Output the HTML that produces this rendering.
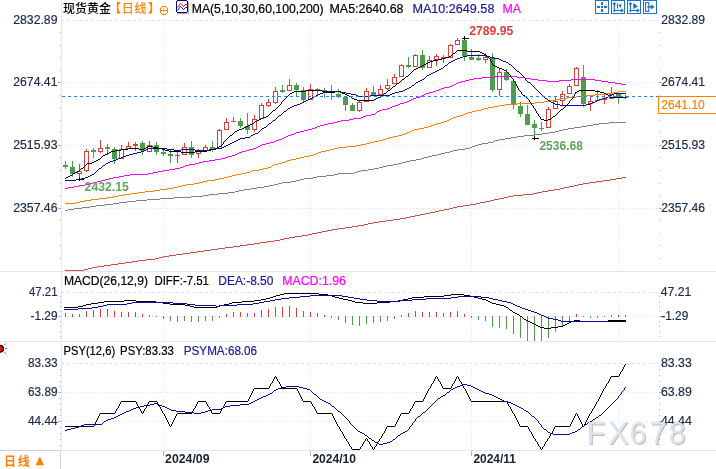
<!DOCTYPE html>
<html><head><meta charset="utf-8"><title>chart</title>
<style>html,body{margin:0;padding:0;background:#fff;width:716px;height:469px;overflow:hidden}svg{display:block}</style>
</head><body>
<svg xmlns="http://www.w3.org/2000/svg" width="716" height="469" viewBox="0 0 716 469">
<rect x="0" y="0" width="716" height="469" fill="#ffffff"/><g shape-rendering="crispEdges"><line x1="61" y1="20.5" x2="658" y2="20.5" stroke="#dfe5ec" stroke-width="1" stroke-dasharray="3 3"/><line x1="62" y1="82.5" x2="658" y2="82.5" stroke="#dde2e8" stroke-width="1" stroke-dasharray="1 2"/><line x1="62" y1="145.5" x2="658" y2="145.5" stroke="#dde2e8" stroke-width="1" stroke-dasharray="1 2"/><line x1="62" y1="208.5" x2="658" y2="208.5" stroke="#dde2e8" stroke-width="1" stroke-dasharray="1 2"/><line x1="61" y1="292.5" x2="658" y2="292.5" stroke="#dfe5ec" stroke-width="1" stroke-dasharray="3 3"/><line x1="62" y1="316.5" x2="658" y2="316.5" stroke="#dde2e8" stroke-width="1" stroke-dasharray="1 2"/><line x1="61" y1="363.5" x2="658" y2="363.5" stroke="#dfe5ec" stroke-width="1" stroke-dasharray="3 3"/><line x1="62" y1="392.5" x2="658" y2="392.5" stroke="#dde2e8" stroke-width="1" stroke-dasharray="1 2"/><line x1="62" y1="421.5" x2="658" y2="421.5" stroke="#dde2e8" stroke-width="1" stroke-dasharray="1 2"/><line x1="163.5" y1="23" x2="163.5" y2="271" stroke="#e2e6eb" stroke-width="1" stroke-dasharray="1 2"/><line x1="163.5" y1="295" x2="163.5" y2="341" stroke="#e2e6eb" stroke-width="1" stroke-dasharray="1 2"/><line x1="163.5" y1="366" x2="163.5" y2="450" stroke="#e2e6eb" stroke-width="1" stroke-dasharray="1 2"/><line x1="310.5" y1="23" x2="310.5" y2="271" stroke="#e2e6eb" stroke-width="1" stroke-dasharray="1 2"/><line x1="310.5" y1="295" x2="310.5" y2="341" stroke="#e2e6eb" stroke-width="1" stroke-dasharray="1 2"/><line x1="310.5" y1="366" x2="310.5" y2="450" stroke="#e2e6eb" stroke-width="1" stroke-dasharray="1 2"/><line x1="471.5" y1="23" x2="471.5" y2="271" stroke="#e2e6eb" stroke-width="1" stroke-dasharray="1 2"/><line x1="471.5" y1="295" x2="471.5" y2="341" stroke="#e2e6eb" stroke-width="1" stroke-dasharray="1 2"/><line x1="471.5" y1="366" x2="471.5" y2="450" stroke="#e2e6eb" stroke-width="1" stroke-dasharray="1 2"/><line x1="618.5" y1="23" x2="618.5" y2="271" stroke="#e2e6eb" stroke-width="1" stroke-dasharray="1 2"/><line x1="618.5" y1="295" x2="618.5" y2="341" stroke="#e2e6eb" stroke-width="1" stroke-dasharray="1 2"/><line x1="618.5" y1="366" x2="618.5" y2="450" stroke="#e2e6eb" stroke-width="1" stroke-dasharray="1 2"/></g><g shape-rendering="crispEdges"><line x1="0" y1="271.5" x2="716" y2="271.5" stroke="#dfe5ee" stroke-width="1"/><line x1="0" y1="341.5" x2="716" y2="341.5" stroke="#dfe5ee" stroke-width="1"/><line x1="61" y1="450.5" x2="716" y2="450.5" stroke="#dfe5ee" stroke-width="1"/><line x1="0" y1="450.5" x2="61" y2="450.5" stroke="#c9ced6" stroke-width="1"/><line x1="60.5" y1="450" x2="60.5" y2="469" stroke="#c9ced6" stroke-width="1"/><line x1="61.5" y1="0" x2="61.5" y2="450" stroke="#e2e9f2" stroke-width="1"/><line x1="60" y1="32.5" x2="61" y2="32.5" stroke="#b5bac3" stroke-width="1"/><line x1="60" y1="45.5" x2="61" y2="45.5" stroke="#b5bac3" stroke-width="1"/><line x1="60" y1="57.5" x2="61" y2="57.5" stroke="#b5bac3" stroke-width="1"/><line x1="60" y1="70.5" x2="61" y2="70.5" stroke="#b5bac3" stroke-width="1"/><line x1="58" y1="82.5" x2="61" y2="82.5" stroke="#a9b0bb" stroke-width="1"/><line x1="60" y1="95.5" x2="61" y2="95.5" stroke="#b5bac3" stroke-width="1"/><line x1="60" y1="107.5" x2="61" y2="107.5" stroke="#b5bac3" stroke-width="1"/><line x1="60" y1="120.5" x2="61" y2="120.5" stroke="#b5bac3" stroke-width="1"/><line x1="60" y1="132.5" x2="61" y2="132.5" stroke="#b5bac3" stroke-width="1"/><line x1="58" y1="145.5" x2="61" y2="145.5" stroke="#a9b0bb" stroke-width="1"/><line x1="60" y1="157.5" x2="61" y2="157.5" stroke="#b5bac3" stroke-width="1"/><line x1="60" y1="170.5" x2="61" y2="170.5" stroke="#b5bac3" stroke-width="1"/><line x1="60" y1="183.5" x2="61" y2="183.5" stroke="#b5bac3" stroke-width="1"/><line x1="60" y1="195.5" x2="61" y2="195.5" stroke="#b5bac3" stroke-width="1"/><line x1="58" y1="208.5" x2="61" y2="208.5" stroke="#a9b0bb" stroke-width="1"/><line x1="60" y1="220.5" x2="61" y2="220.5" stroke="#b5bac3" stroke-width="1"/><line x1="60" y1="233.5" x2="61" y2="233.5" stroke="#b5bac3" stroke-width="1"/><line x1="60" y1="245.5" x2="61" y2="245.5" stroke="#b5bac3" stroke-width="1"/><line x1="60" y1="258.5" x2="61" y2="258.5" stroke="#b5bac3" stroke-width="1"/><line x1="659" y1="32.5" x2="660" y2="32.5" stroke="#b5bac3" stroke-width="1"/><line x1="659" y1="45.5" x2="660" y2="45.5" stroke="#b5bac3" stroke-width="1"/><line x1="659" y1="57.5" x2="660" y2="57.5" stroke="#b5bac3" stroke-width="1"/><line x1="659" y1="70.5" x2="660" y2="70.5" stroke="#b5bac3" stroke-width="1"/><line x1="659" y1="82.5" x2="662" y2="82.5" stroke="#a9b0bb" stroke-width="1"/><line x1="659" y1="95.5" x2="660" y2="95.5" stroke="#b5bac3" stroke-width="1"/><line x1="659" y1="107.5" x2="660" y2="107.5" stroke="#b5bac3" stroke-width="1"/><line x1="659" y1="120.5" x2="660" y2="120.5" stroke="#b5bac3" stroke-width="1"/><line x1="659" y1="132.5" x2="660" y2="132.5" stroke="#b5bac3" stroke-width="1"/><line x1="659" y1="145.5" x2="662" y2="145.5" stroke="#a9b0bb" stroke-width="1"/><line x1="659" y1="157.5" x2="660" y2="157.5" stroke="#b5bac3" stroke-width="1"/><line x1="659" y1="170.5" x2="660" y2="170.5" stroke="#b5bac3" stroke-width="1"/><line x1="659" y1="183.5" x2="660" y2="183.5" stroke="#b5bac3" stroke-width="1"/><line x1="659" y1="195.5" x2="660" y2="195.5" stroke="#b5bac3" stroke-width="1"/><line x1="659" y1="208.5" x2="662" y2="208.5" stroke="#a9b0bb" stroke-width="1"/><line x1="659" y1="220.5" x2="660" y2="220.5" stroke="#b5bac3" stroke-width="1"/><line x1="659" y1="233.5" x2="660" y2="233.5" stroke="#b5bac3" stroke-width="1"/><line x1="659" y1="245.5" x2="660" y2="245.5" stroke="#b5bac3" stroke-width="1"/><line x1="659" y1="258.5" x2="660" y2="258.5" stroke="#b5bac3" stroke-width="1"/><line x1="60" y1="296.5" x2="61" y2="296.5" stroke="#b0b6c0" stroke-width="1"/><line x1="659" y1="296.5" x2="660" y2="296.5" stroke="#b0b6c0" stroke-width="1"/><line x1="60" y1="302.5" x2="61" y2="302.5" stroke="#b0b6c0" stroke-width="1"/><line x1="659" y1="302.5" x2="660" y2="302.5" stroke="#b0b6c0" stroke-width="1"/><line x1="60" y1="306.5" x2="61" y2="306.5" stroke="#b0b6c0" stroke-width="1"/><line x1="659" y1="306.5" x2="660" y2="306.5" stroke="#b0b6c0" stroke-width="1"/><line x1="60" y1="311.5" x2="61" y2="311.5" stroke="#b0b6c0" stroke-width="1"/><line x1="659" y1="311.5" x2="660" y2="311.5" stroke="#b0b6c0" stroke-width="1"/><line x1="58" y1="316.5" x2="61" y2="316.5" stroke="#b0b6c0" stroke-width="1"/><line x1="659" y1="316.5" x2="662" y2="316.5" stroke="#b0b6c0" stroke-width="1"/><line x1="60" y1="321.5" x2="61" y2="321.5" stroke="#b0b6c0" stroke-width="1"/><line x1="659" y1="321.5" x2="660" y2="321.5" stroke="#b0b6c0" stroke-width="1"/><line x1="60" y1="326.5" x2="61" y2="326.5" stroke="#b0b6c0" stroke-width="1"/><line x1="659" y1="326.5" x2="660" y2="326.5" stroke="#b0b6c0" stroke-width="1"/><line x1="60" y1="331.5" x2="61" y2="331.5" stroke="#b0b6c0" stroke-width="1"/><line x1="659" y1="331.5" x2="660" y2="331.5" stroke="#b0b6c0" stroke-width="1"/><line x1="60" y1="336.5" x2="61" y2="336.5" stroke="#b0b6c0" stroke-width="1"/><line x1="659" y1="336.5" x2="660" y2="336.5" stroke="#b0b6c0" stroke-width="1"/><line x1="60" y1="369.5" x2="61" y2="369.5" stroke="#b0b6c0" stroke-width="1"/><line x1="659" y1="369.5" x2="660" y2="369.5" stroke="#b0b6c0" stroke-width="1"/><line x1="60" y1="375.5" x2="61" y2="375.5" stroke="#b0b6c0" stroke-width="1"/><line x1="659" y1="375.5" x2="660" y2="375.5" stroke="#b0b6c0" stroke-width="1"/><line x1="60" y1="381.5" x2="61" y2="381.5" stroke="#b0b6c0" stroke-width="1"/><line x1="659" y1="381.5" x2="660" y2="381.5" stroke="#b0b6c0" stroke-width="1"/><line x1="60" y1="386.5" x2="61" y2="386.5" stroke="#b0b6c0" stroke-width="1"/><line x1="659" y1="386.5" x2="660" y2="386.5" stroke="#b0b6c0" stroke-width="1"/><line x1="58" y1="392.5" x2="61" y2="392.5" stroke="#b0b6c0" stroke-width="1"/><line x1="659" y1="392.5" x2="662" y2="392.5" stroke="#b0b6c0" stroke-width="1"/><line x1="60" y1="398.5" x2="61" y2="398.5" stroke="#b0b6c0" stroke-width="1"/><line x1="659" y1="398.5" x2="660" y2="398.5" stroke="#b0b6c0" stroke-width="1"/><line x1="60" y1="403.5" x2="61" y2="403.5" stroke="#b0b6c0" stroke-width="1"/><line x1="659" y1="403.5" x2="660" y2="403.5" stroke="#b0b6c0" stroke-width="1"/><line x1="60" y1="409.5" x2="61" y2="409.5" stroke="#b0b6c0" stroke-width="1"/><line x1="659" y1="409.5" x2="660" y2="409.5" stroke="#b0b6c0" stroke-width="1"/><line x1="60" y1="415.5" x2="61" y2="415.5" stroke="#b0b6c0" stroke-width="1"/><line x1="659" y1="415.5" x2="660" y2="415.5" stroke="#b0b6c0" stroke-width="1"/><line x1="58" y1="421.5" x2="61" y2="421.5" stroke="#b0b6c0" stroke-width="1"/><line x1="659" y1="421.5" x2="662" y2="421.5" stroke="#b0b6c0" stroke-width="1"/><line x1="60" y1="427.5" x2="61" y2="427.5" stroke="#b0b6c0" stroke-width="1"/><line x1="659" y1="427.5" x2="660" y2="427.5" stroke="#b0b6c0" stroke-width="1"/><line x1="60" y1="433.5" x2="61" y2="433.5" stroke="#b0b6c0" stroke-width="1"/><line x1="659" y1="433.5" x2="660" y2="433.5" stroke="#b0b6c0" stroke-width="1"/><line x1="60" y1="439.5" x2="61" y2="439.5" stroke="#b0b6c0" stroke-width="1"/><line x1="659" y1="439.5" x2="660" y2="439.5" stroke="#b0b6c0" stroke-width="1"/><line x1="60" y1="445.5" x2="61" y2="445.5" stroke="#b0b6c0" stroke-width="1"/><line x1="659" y1="445.5" x2="660" y2="445.5" stroke="#b0b6c0" stroke-width="1"/><line x1="163.5" y1="451" x2="163.5" y2="456" stroke="#b0b6c0" stroke-width="1"/><line x1="310.5" y1="451" x2="310.5" y2="456" stroke="#b0b6c0" stroke-width="1"/><line x1="471.5" y1="451" x2="471.5" y2="456" stroke="#b0b6c0" stroke-width="1"/></g><g shape-rendering="crispEdges"><line x1="65.5" y1="161" x2="65.5" y2="165" stroke="#4f9d4a"/><line x1="65.5" y1="167" x2="65.5" y2="169" stroke="#4f9d4a"/><rect x="63" y="165" width="5" height="2" fill="#4f9d4a"/><line x1="72.5" y1="161" x2="72.5" y2="167" stroke="#4f9d4a"/><line x1="72.5" y1="174" x2="72.5" y2="177" stroke="#4f9d4a"/><rect x="70" y="167" width="5" height="7" fill="#4f9d4a"/><line x1="79.5" y1="164" x2="79.5" y2="171" stroke="#d8413a"/><line x1="79.5" y1="174" x2="79.5" y2="181" stroke="#d8413a"/><rect x="77.5" y="171.5" width="4" height="2" fill="#fff" stroke="#d8413a"/><line x1="86.5" y1="149" x2="86.5" y2="151" stroke="#d8413a"/><line x1="86.5" y1="171" x2="86.5" y2="172" stroke="#d8413a"/><rect x="84.5" y="151.5" width="4" height="19" fill="#fff" stroke="#d8413a"/><line x1="93.5" y1="148" x2="93.5" y2="150" stroke="#4f9d4a"/><line x1="93.5" y1="152" x2="93.5" y2="158" stroke="#4f9d4a"/><rect x="91" y="150" width="5" height="2" fill="#4f9d4a"/><line x1="100.5" y1="140" x2="100.5" y2="148" stroke="#d8413a"/><line x1="100.5" y1="152" x2="100.5" y2="153" stroke="#d8413a"/><rect x="98.5" y="148.5" width="4" height="3" fill="#fff" stroke="#d8413a"/><line x1="107.5" y1="144" x2="107.5" y2="147" stroke="#4f9d4a"/><line x1="107.5" y1="149" x2="107.5" y2="155" stroke="#4f9d4a"/><rect x="105" y="147" width="5" height="2" fill="#4f9d4a"/><line x1="114.5" y1="147" x2="114.5" y2="149" stroke="#4f9d4a"/><line x1="114.5" y1="159" x2="114.5" y2="164" stroke="#4f9d4a"/><rect x="112" y="149" width="5" height="10" fill="#4f9d4a"/><line x1="121.5" y1="145" x2="121.5" y2="149" stroke="#d8413a"/><rect x="119.5" y="149.5" width="4" height="9" fill="#fff" stroke="#d8413a"/><line x1="128.5" y1="142" x2="128.5" y2="146" stroke="#d8413a"/><rect x="126.5" y="146.5" width="4" height="2" fill="#fff" stroke="#d8413a"/><line x1="135.5" y1="142" x2="135.5" y2="144" stroke="#d8413a"/><line x1="135.5" y1="146" x2="135.5" y2="151" stroke="#d8413a"/><rect x="133" y="144" width="5" height="2" fill="#d8413a"/><line x1="142.5" y1="141" x2="142.5" y2="143" stroke="#4f9d4a"/><line x1="142.5" y1="151" x2="142.5" y2="155" stroke="#4f9d4a"/><rect x="140" y="143" width="5" height="8" fill="#4f9d4a"/><line x1="149.5" y1="141" x2="149.5" y2="145" stroke="#d8413a"/><rect x="147.5" y="145.5" width="4" height="6" fill="#fff" stroke="#d8413a"/><line x1="156.5" y1="142" x2="156.5" y2="145" stroke="#4f9d4a"/><line x1="156.5" y1="152" x2="156.5" y2="155" stroke="#4f9d4a"/><rect x="154" y="145" width="5" height="7" fill="#4f9d4a"/><line x1="163.5" y1="150" x2="163.5" y2="152" stroke="#4f9d4a"/><line x1="163.5" y1="154" x2="163.5" y2="156" stroke="#4f9d4a"/><rect x="161" y="152" width="5" height="2" fill="#4f9d4a"/><line x1="170.5" y1="150" x2="170.5" y2="154" stroke="#4f9d4a"/><line x1="170.5" y1="156" x2="170.5" y2="163" stroke="#4f9d4a"/><rect x="168" y="154" width="5" height="2" fill="#4f9d4a"/><line x1="177.5" y1="152" x2="177.5" y2="155" stroke="#d8413a"/><line x1="177.5" y1="156" x2="177.5" y2="163" stroke="#d8413a"/><rect x="175" y="155" width="5" height="1" fill="#d8413a"/><line x1="184.5" y1="143" x2="184.5" y2="147" stroke="#d8413a"/><rect x="182.5" y="147.5" width="4" height="7" fill="#fff" stroke="#d8413a"/><line x1="191.5" y1="141" x2="191.5" y2="147" stroke="#4f9d4a"/><line x1="191.5" y1="155" x2="191.5" y2="158" stroke="#4f9d4a"/><rect x="189" y="147" width="5" height="8" fill="#4f9d4a"/><line x1="198.5" y1="149" x2="198.5" y2="151" stroke="#d8413a"/><line x1="198.5" y1="154" x2="198.5" y2="158" stroke="#d8413a"/><rect x="196.5" y="151.5" width="4" height="2" fill="#fff" stroke="#d8413a"/><line x1="205.5" y1="145" x2="205.5" y2="147" stroke="#d8413a"/><line x1="205.5" y1="151" x2="205.5" y2="152" stroke="#d8413a"/><rect x="203.5" y="147.5" width="4" height="3" fill="#fff" stroke="#d8413a"/><line x1="212.5" y1="141" x2="212.5" y2="147" stroke="#4f9d4a"/><line x1="212.5" y1="149" x2="212.5" y2="152" stroke="#4f9d4a"/><rect x="210" y="147" width="5" height="2" fill="#4f9d4a"/><line x1="219.5" y1="129" x2="219.5" y2="130" stroke="#d8413a"/><rect x="217.5" y="130.5" width="4" height="18" fill="#fff" stroke="#d8413a"/><line x1="226.5" y1="118" x2="226.5" y2="122" stroke="#d8413a"/><rect x="224.5" y="122.5" width="4" height="7" fill="#fff" stroke="#d8413a"/><line x1="233.5" y1="117" x2="233.5" y2="121" stroke="#d8413a"/><rect x="231" y="121" width="5" height="1" fill="#d8413a"/><line x1="240.5" y1="118" x2="240.5" y2="121" stroke="#4f9d4a"/><line x1="240.5" y1="126" x2="240.5" y2="128" stroke="#4f9d4a"/><rect x="238" y="121" width="5" height="5" fill="#4f9d4a"/><line x1="247.5" y1="113" x2="247.5" y2="126" stroke="#4f9d4a"/><line x1="247.5" y1="130" x2="247.5" y2="134" stroke="#4f9d4a"/><rect x="245" y="126" width="5" height="4" fill="#4f9d4a"/><line x1="254.5" y1="115" x2="254.5" y2="119" stroke="#d8413a"/><line x1="254.5" y1="130" x2="254.5" y2="132" stroke="#d8413a"/><rect x="252.5" y="119.5" width="4" height="10" fill="#fff" stroke="#d8413a"/><line x1="261.5" y1="103" x2="261.5" y2="105" stroke="#d8413a"/><rect x="259.5" y="105.5" width="4" height="13" fill="#fff" stroke="#d8413a"/><line x1="268.5" y1="99" x2="268.5" y2="102" stroke="#d8413a"/><line x1="268.5" y1="106" x2="268.5" y2="107" stroke="#d8413a"/><rect x="266.5" y="102.5" width="4" height="3" fill="#fff" stroke="#d8413a"/><line x1="275.5" y1="87" x2="275.5" y2="91" stroke="#d8413a"/><line x1="275.5" y1="103" x2="275.5" y2="104" stroke="#d8413a"/><rect x="273.5" y="91.5" width="4" height="11" fill="#fff" stroke="#d8413a"/><line x1="282.5" y1="85" x2="282.5" y2="90" stroke="#4f9d4a"/><line x1="282.5" y1="92" x2="282.5" y2="93" stroke="#4f9d4a"/><rect x="280" y="90" width="5" height="2" fill="#4f9d4a"/><line x1="289.5" y1="79" x2="289.5" y2="85" stroke="#d8413a"/><rect x="287.5" y="85.5" width="4" height="5" fill="#fff" stroke="#d8413a"/><line x1="296.5" y1="83" x2="296.5" y2="85" stroke="#4f9d4a"/><line x1="296.5" y1="90" x2="296.5" y2="97" stroke="#4f9d4a"/><rect x="294" y="85" width="5" height="5" fill="#4f9d4a"/><line x1="303.5" y1="87" x2="303.5" y2="90" stroke="#4f9d4a"/><line x1="303.5" y1="100" x2="303.5" y2="103" stroke="#4f9d4a"/><rect x="301" y="90" width="5" height="10" fill="#4f9d4a"/><line x1="310.5" y1="84" x2="310.5" y2="89" stroke="#d8413a"/><rect x="308.5" y="89.5" width="4" height="10" fill="#fff" stroke="#d8413a"/><line x1="317.5" y1="88" x2="317.5" y2="89" stroke="#4f9d4a"/><line x1="317.5" y1="91" x2="317.5" y2="96" stroke="#4f9d4a"/><rect x="315" y="89" width="5" height="2" fill="#4f9d4a"/><line x1="324.5" y1="88" x2="324.5" y2="90" stroke="#4f9d4a"/><line x1="324.5" y1="92" x2="324.5" y2="98" stroke="#4f9d4a"/><rect x="322" y="90" width="5" height="2" fill="#4f9d4a"/><line x1="331.5" y1="85" x2="331.5" y2="91" stroke="#4f9d4a"/><line x1="331.5" y1="93" x2="331.5" y2="100" stroke="#4f9d4a"/><rect x="329" y="91" width="5" height="2" fill="#4f9d4a"/><line x1="338.5" y1="89" x2="338.5" y2="94" stroke="#4f9d4a"/><line x1="338.5" y1="97" x2="338.5" y2="98" stroke="#4f9d4a"/><rect x="336" y="94" width="5" height="3" fill="#4f9d4a"/><line x1="345.5" y1="96" x2="345.5" y2="97" stroke="#4f9d4a"/><line x1="345.5" y1="105" x2="345.5" y2="111" stroke="#4f9d4a"/><rect x="343" y="97" width="5" height="8" fill="#4f9d4a"/><line x1="352.5" y1="103" x2="352.5" y2="105" stroke="#4f9d4a"/><rect x="350" y="105" width="5" height="6" fill="#4f9d4a"/><line x1="359.5" y1="101" x2="359.5" y2="102" stroke="#d8413a"/><line x1="359.5" y1="111" x2="359.5" y2="112" stroke="#d8413a"/><rect x="357.5" y="102.5" width="4" height="8" fill="#fff" stroke="#d8413a"/><line x1="366.5" y1="88" x2="366.5" y2="91" stroke="#d8413a"/><rect x="364.5" y="91.5" width="4" height="10" fill="#fff" stroke="#d8413a"/><line x1="373.5" y1="86" x2="373.5" y2="92" stroke="#4f9d4a"/><rect x="371" y="92" width="5" height="3" fill="#4f9d4a"/><line x1="380.5" y1="85" x2="380.5" y2="89" stroke="#d8413a"/><line x1="380.5" y1="95" x2="380.5" y2="98" stroke="#d8413a"/><rect x="378.5" y="89.5" width="4" height="5" fill="#fff" stroke="#d8413a"/><line x1="387.5" y1="79" x2="387.5" y2="85" stroke="#d8413a"/><line x1="387.5" y1="89" x2="387.5" y2="90" stroke="#d8413a"/><rect x="385.5" y="85.5" width="4" height="3" fill="#fff" stroke="#d8413a"/><line x1="394.5" y1="74" x2="394.5" y2="77" stroke="#d8413a"/><rect x="392.5" y="77.5" width="4" height="6" fill="#fff" stroke="#d8413a"/><line x1="401.5" y1="64" x2="401.5" y2="65" stroke="#d8413a"/><rect x="399.5" y="65.5" width="4" height="11" fill="#fff" stroke="#d8413a"/><line x1="408.5" y1="57" x2="408.5" y2="65" stroke="#4f9d4a"/><line x1="408.5" y1="67" x2="408.5" y2="68" stroke="#4f9d4a"/><rect x="406" y="65" width="5" height="2" fill="#4f9d4a"/><line x1="415.5" y1="54" x2="415.5" y2="55" stroke="#d8413a"/><rect x="413.5" y="55.5" width="4" height="11" fill="#fff" stroke="#d8413a"/><line x1="422.5" y1="50" x2="422.5" y2="55" stroke="#4f9d4a"/><line x1="422.5" y1="68" x2="422.5" y2="70" stroke="#4f9d4a"/><rect x="420" y="55" width="5" height="13" fill="#4f9d4a"/><line x1="429.5" y1="56" x2="429.5" y2="60" stroke="#d8413a"/><rect x="427.5" y="60.5" width="4" height="7" fill="#fff" stroke="#d8413a"/><line x1="436.5" y1="54" x2="436.5" y2="56" stroke="#d8413a"/><line x1="436.5" y1="60" x2="436.5" y2="66" stroke="#d8413a"/><rect x="434.5" y="56.5" width="4" height="3" fill="#fff" stroke="#d8413a"/><line x1="443.5" y1="55" x2="443.5" y2="57" stroke="#d8413a"/><line x1="443.5" y1="59" x2="443.5" y2="63" stroke="#d8413a"/><rect x="441" y="57" width="5" height="2" fill="#d8413a"/><line x1="450.5" y1="44" x2="450.5" y2="45" stroke="#d8413a"/><rect x="448.5" y="45.5" width="4" height="12" fill="#fff" stroke="#d8413a"/><line x1="457.5" y1="38" x2="457.5" y2="40" stroke="#d8413a"/><rect x="455.5" y="40.5" width="4" height="4" fill="#fff" stroke="#d8413a"/><line x1="464.5" y1="38" x2="464.5" y2="40" stroke="#4f9d4a"/><line x1="464.5" y1="56" x2="464.5" y2="61" stroke="#4f9d4a"/><rect x="462" y="40" width="5" height="16" fill="#4f9d4a"/><line x1="471.5" y1="49" x2="471.5" y2="57" stroke="#4f9d4a"/><rect x="469" y="57" width="5" height="3" fill="#4f9d4a"/><line x1="478.5" y1="54" x2="478.5" y2="58" stroke="#4f9d4a"/><line x1="478.5" y1="60" x2="478.5" y2="61" stroke="#4f9d4a"/><rect x="476" y="58" width="5" height="2" fill="#4f9d4a"/><line x1="485.5" y1="53" x2="485.5" y2="57" stroke="#d8413a"/><line x1="485.5" y1="60" x2="485.5" y2="63" stroke="#d8413a"/><rect x="483.5" y="57.5" width="4" height="2" fill="#fff" stroke="#d8413a"/><line x1="492.5" y1="53" x2="492.5" y2="57" stroke="#4f9d4a"/><line x1="492.5" y1="90" x2="492.5" y2="92" stroke="#4f9d4a"/><rect x="490" y="57" width="5" height="33" fill="#4f9d4a"/><line x1="499.5" y1="69" x2="499.5" y2="72" stroke="#d8413a"/><line x1="499.5" y1="90" x2="499.5" y2="96" stroke="#d8413a"/><rect x="497.5" y="72.5" width="4" height="17" fill="#fff" stroke="#d8413a"/><line x1="506.5" y1="69" x2="506.5" y2="72" stroke="#4f9d4a"/><line x1="506.5" y1="80" x2="506.5" y2="81" stroke="#4f9d4a"/><rect x="504" y="72" width="5" height="8" fill="#4f9d4a"/><line x1="513.5" y1="105" x2="513.5" y2="109" stroke="#4f9d4a"/><rect x="511" y="81" width="5" height="24" fill="#4f9d4a"/><line x1="520.5" y1="102" x2="520.5" y2="106" stroke="#4f9d4a"/><line x1="520.5" y1="114" x2="520.5" y2="117" stroke="#4f9d4a"/><rect x="518" y="106" width="5" height="8" fill="#4f9d4a"/><line x1="527.5" y1="105" x2="527.5" y2="114" stroke="#4f9d4a"/><rect x="525" y="114" width="5" height="11" fill="#4f9d4a"/><line x1="534.5" y1="120" x2="534.5" y2="124" stroke="#4f9d4a"/><line x1="534.5" y1="128" x2="534.5" y2="138" stroke="#4f9d4a"/><rect x="532" y="124" width="5" height="4" fill="#4f9d4a"/><line x1="541.5" y1="122" x2="541.5" y2="128" stroke="#4f9d4a"/><line x1="541.5" y1="129" x2="541.5" y2="131" stroke="#4f9d4a"/><rect x="539" y="128" width="5" height="1" fill="#4f9d4a"/><line x1="548.5" y1="107" x2="548.5" y2="109" stroke="#d8413a"/><rect x="546.5" y="109.5" width="4" height="18" fill="#fff" stroke="#d8413a"/><line x1="555.5" y1="96" x2="555.5" y2="101" stroke="#d8413a"/><rect x="553.5" y="101.5" width="4" height="7" fill="#fff" stroke="#d8413a"/><line x1="562.5" y1="91" x2="562.5" y2="94" stroke="#d8413a"/><line x1="562.5" y1="101" x2="562.5" y2="105" stroke="#d8413a"/><rect x="560.5" y="94.5" width="4" height="6" fill="#fff" stroke="#d8413a"/><line x1="569.5" y1="84" x2="569.5" y2="86" stroke="#d8413a"/><rect x="567.5" y="86.5" width="4" height="7" fill="#fff" stroke="#d8413a"/><line x1="576.5" y1="67" x2="576.5" y2="68" stroke="#d8413a"/><rect x="574.5" y="68.5" width="4" height="17" fill="#fff" stroke="#d8413a"/><line x1="583.5" y1="65" x2="583.5" y2="77" stroke="#4f9d4a"/><line x1="583.5" y1="104" x2="583.5" y2="107" stroke="#4f9d4a"/><rect x="581" y="77" width="5" height="27" fill="#4f9d4a"/><line x1="590.5" y1="97" x2="590.5" y2="101" stroke="#d8413a"/><line x1="590.5" y1="104" x2="590.5" y2="111" stroke="#d8413a"/><rect x="588.5" y="101.5" width="4" height="2" fill="#fff" stroke="#d8413a"/><line x1="597.5" y1="90" x2="597.5" y2="100" stroke="#d8413a"/><rect x="595" y="100" width="5" height="1" fill="#d8413a"/><line x1="604.5" y1="94" x2="604.5" y2="98" stroke="#d8413a"/><line x1="604.5" y1="100" x2="604.5" y2="104" stroke="#d8413a"/><rect x="602" y="98" width="5" height="2" fill="#d8413a"/><line x1="611.5" y1="87" x2="611.5" y2="94" stroke="#d8413a"/><rect x="609.5" y="94.5" width="4" height="4" fill="#fff" stroke="#d8413a"/><line x1="618.5" y1="93" x2="618.5" y2="94" stroke="#4f9d4a"/><line x1="618.5" y1="97" x2="618.5" y2="104" stroke="#4f9d4a"/><rect x="616" y="94" width="5" height="3" fill="#4f9d4a"/><line x1="625.5" y1="95" x2="625.5" y2="97" stroke="#d8413a"/><line x1="625.5" y1="98" x2="625.5" y2="99" stroke="#d8413a"/><rect x="623" y="97" width="5" height="1" fill="#d8413a"/></g><g shape-rendering="crispEdges"><path d="M622 177h4v1h-4zM616 178h6v1h-6zM610 179h6v1h-6zM603 180h7v1h-7zM596 181h7v1h-7zM589 182h7v1h-7zM583 183h6v1h-6zM578 184h5v1h-5zM574 185h4v1h-4zM569 186h5v1h-5zM564 187h5v1h-5zM560 188h4v1h-4zM554 189h6v1h-6zM548 190h6v1h-6zM542 191h6v1h-6zM537 192h5v1h-5zM533 193h4v1h-4zM523 194h10v1h-10zM513 195h10v1h-10zM508 196h5v1h-5zM504 197h4v1h-4zM499 198h5v1h-5zM494 199h5v1h-5zM490 200h4v1h-4zM485 201h5v1h-5zM480 202h5v1h-5zM476 203h4v1h-4zM470 204h6v1h-6zM463 205h7v1h-7zM457 206h6v1h-6zM453 207h4v1h-4zM449 208h4v1h-4zM444 209h5v1h-5zM439 210h5v1h-5zM435 211h4v1h-4zM430 212h5v1h-5zM425 213h5v1h-5zM420 214h5v1h-5zM415 215h5v1h-5zM410 216h5v1h-5zM406 217h4v1h-4zM400 218h6v1h-6zM393 219h7v1h-7zM386 220h7v1h-7zM379 221h7v1h-7zM373 222h6v1h-6zM368 223h5v1h-5zM364 224h4v1h-4zM358 225h6v1h-6zM352 226h6v1h-6zM345 227h7v1h-7zM338 228h7v1h-7zM332 229h6v1h-6zM327 230h5v1h-5zM322 231h5v1h-5zM317 232h5v1h-5zM312 233h5v1h-5zM308 234h4v1h-4zM302 235h6v1h-6zM295 236h7v1h-7zM289 237h6v1h-6zM284 238h5v1h-5zM280 239h4v1h-4zM274 240h6v1h-6zM267 241h7v1h-7zM260 242h7v1h-7zM254 243h6v1h-6zM247 244h7v1h-7zM240 245h7v1h-7zM233 246h7v1h-7zM225 247h8v1h-8zM218 248h7v1h-7zM211 249h7v1h-7zM204 250h7v1h-7zM197 251h7v1h-7zM190 252h7v1h-7zM183 253h7v1h-7zM176 254h7v1h-7zM169 255h7v1h-7zM163 256h6v1h-6zM159 257h4v1h-4zM155 258h4v1h-4zM146 259h9v1h-9zM138 260h8v1h-8zM132 261h6v1h-6zM125 262h7v1h-7zM118 263h7v1h-7zM111 264h7v1h-7zM104 265h7v1h-7zM97 266h7v1h-7zM92 267h5v1h-5zM88 268h4v1h-4zM84 269h4v1h-4zM65 270h19v1h-19z" fill="#cf4b45"/><path d="M609 122h17v1h-17zM599 123h10v1h-10zM593 124h6v1h-6zM587 125h6v1h-6zM581 126h6v1h-6zM574 127h7v1h-7zM568 128h6v1h-6zM563 129h5v1h-5zM559 130h4v1h-4zM555 131h4v1h-4zM549 132h6v1h-6zM542 133h7v1h-7zM535 134h7v1h-7zM524 135h11v1h-11zM517 136h7v1h-7zM511 137h6v1h-6zM505 138h6v1h-6zM499 139h6v1h-6zM495 140h4v1h-4zM493 141h2v1h-2zM488 142h5v1h-5zM482 143h6v1h-6zM478 144h4v1h-4zM475 145h3v1h-3zM472 146h3v1h-3zM470 147h2v1h-2zM465 148h5v1h-5zM458 149h7v1h-7zM453 150h5v1h-5zM450 151h3v1h-3zM445 152h5v1h-5zM441 153h4v1h-4zM437 154h4v1h-4zM432 155h5v1h-5zM428 156h4v1h-4zM424 157h4v1h-4zM421 158h3v1h-3zM416 159h5v1h-5zM410 160h6v1h-6zM406 161h4v1h-4zM402 162h4v1h-4zM398 163h4v1h-4zM393 164h5v1h-5zM387 165h6v1h-6zM383 166h4v1h-4zM379 167h4v1h-4zM374 168h5v1h-5zM368 169h6v1h-6zM361 170h7v1h-7zM357 171h4v1h-4zM354 172h3v1h-3zM338 173h16v1h-16zM334 174h4v1h-4zM326 175h8v1h-8zM317 176h9v1h-9zM313 177h4v1h-4zM304 178h9v1h-9zM300 179h4v1h-4zM296 180h4v1h-4zM291 181h5v1h-5zM282 182h9v1h-9zM278 183h4v1h-4zM274 184h4v1h-4zM269 185h5v1h-5zM264 186h5v1h-5zM257 187h7v1h-7zM251 188h6v1h-6zM244 189h7v1h-7zM239 190h5v1h-5zM235 191h4v1h-4zM228 192h7v1h-7zM218 193h10v1h-10zM209 194h9v1h-9zM203 195h6v1h-6zM191 196h12v1h-12zM174 197h17v1h-17zM160 198h14v1h-14zM147 199h13v1h-13zM136 200h11v1h-11zM127 201h9v1h-9zM119 202h8v1h-8zM113 203h6v1h-6zM105 204h8v1h-8zM96 205h9v1h-9zM90 206h6v1h-6zM82 207h8v1h-8zM74 208h8v1h-8zM68 209h6v1h-6zM65 210h3v1h-3z" fill="#808080"/><path d="M618 91h8v1h-8zM613 92h5v1h-5zM605 93h8v1h-8zM595 94h10v1h-10zM585 95h10v1h-10zM576 96h9v1h-9zM567 97h9v1h-9zM560 98h7v1h-7zM555 99h5v1h-5zM550 100h5v1h-5zM544 101h6v1h-6zM535 102h9v1h-9zM517 103h18v1h-18zM505 104h12v1h-12zM499 105h6v1h-6zM494 106h5v1h-5zM488 107h6v1h-6zM484 108h4v1h-4zM481 109h3v1h-3zM476 110h5v1h-5zM472 111h4v1h-4zM468 112h4v1h-4zM465 113h3v1h-3zM463 114h2v1h-2zM460 115h3v1h-3zM456 116h4v1h-4zM453 117h3v1h-3zM451 118h2v1h-2zM449 119h2v1h-2zM447 120h2v1h-2zM444 121h3v1h-3zM441 122h3v1h-3zM437 123h4v1h-4zM434 124h3v1h-3zM431 125h3v1h-3zM428 126h3v1h-3zM424 127h4v1h-4zM419 128h5v1h-5zM414 129h5v1h-5zM412 130h2v1h-2zM410 131h2v1h-2zM407 132h3v1h-3zM405 133h2v1h-2zM402 134h3v1h-3zM398 135h4v1h-4zM393 136h5v1h-5zM389 137h4v1h-4zM386 138h3v1h-3zM383 139h3v1h-3zM379 140h4v1h-4zM374 141h5v1h-5zM370 142h4v1h-4zM366 143h4v1h-4zM361 144h5v1h-5zM356 145h5v1h-5zM347 146h9v1h-9zM338 147h9v1h-9zM334 148h4v1h-4zM330 149h4v1h-4zM326 150h4v1h-4zM321 151h5v1h-5zM318 152h3v1h-3zM316 153h2v1h-2zM313 154h3v1h-3zM309 155h4v1h-4zM304 156h5v1h-5zM300 157h4v1h-4zM296 158h4v1h-4zM291 159h5v1h-5zM287 160h4v1h-4zM285 161h2v1h-2zM282 162h3v1h-3zM278 163h4v1h-4zM274 164h4v1h-4zM272 165h2v1h-2zM271 166h1v1h-1zM268 167h3v1h-3zM263 168h5v1h-5zM259 169h4v1h-4zM252 170h7v1h-7zM250 171h2v1h-2zM246 172h4v1h-4zM241 173h5v1h-5zM236 174h5v1h-5zM232 175h4v1h-4zM228 176h4v1h-4zM224 177h4v1h-4zM219 178h5v1h-5zM215 179h4v1h-4zM207 180h8v1h-8zM203 181h4v1h-4zM199 182h4v1h-4zM194 183h5v1h-5zM186 184h8v1h-8zM182 185h4v1h-4zM178 186h4v1h-4zM173 187h5v1h-5zM167 188h6v1h-6zM160 189h7v1h-7zM154 190h6v1h-6zM145 191h9v1h-9zM138 192h7v1h-7zM131 193h7v1h-7zM124 194h7v1h-7zM118 195h6v1h-6zM113 196h5v1h-5zM107 197h6v1h-6zM99 198h8v1h-8zM91 199h8v1h-8zM85 200h6v1h-6zM80 201h5v1h-5zM76 202h4v1h-4zM65 203h11v1h-11z" fill="#ff8000"/><path d="M495 76h22v1h-22zM482 77h13v1h-13zM517 77h8v1h-8zM474 78h8v1h-8zM525 78h6v1h-6zM469 79h5v1h-5zM531 79h7v1h-7zM571 79h24v1h-24zM465 80h4v1h-4zM538 80h9v1h-9zM559 80h12v1h-12zM595 80h6v1h-6zM461 81h4v1h-4zM547 81h12v1h-12zM601 81h7v1h-7zM458 82h3v1h-3zM608 82h7v1h-7zM456 83h2v1h-2zM615 83h6v1h-6zM454 84h2v1h-2zM621 84h5v1h-5zM452 85h2v1h-2zM449 86h3v1h-3zM444 87h5v1h-5zM441 88h3v1h-3zM439 89h2v1h-2zM436 90h3v1h-3zM433 91h3v1h-3zM429 92h4v1h-4zM426 93h3v1h-3zM424 94h2v1h-2zM422 95h2v1h-2zM420 96h2v1h-2zM416 97h4v1h-4zM413 98h3v1h-3zM411 99h2v1h-2zM409 100h2v1h-2zM407 101h2v1h-2zM404 102h3v1h-3zM400 103h4v1h-4zM398 104h2v1h-2zM395 105h3v1h-3zM392 106h3v1h-3zM390 107h2v1h-2zM387 108h3v1h-3zM382 109h5v1h-5zM379 110h3v1h-3zM377 111h2v1h-2zM376 112h1v1h-1zM375 113h1v1h-1zM371 114h4v1h-4zM366 115h5v1h-5zM363 116h3v1h-3zM361 117h2v1h-2zM353 118h8v1h-8zM349 119h4v1h-4zM341 120h8v1h-8zM337 121h4v1h-4zM333 122h4v1h-4zM328 123h5v1h-5zM324 124h4v1h-4zM320 125h4v1h-4zM317 126h3v1h-3zM315 127h2v1h-2zM312 128h3v1h-3zM308 129h4v1h-4zM304 130h4v1h-4zM300 131h4v1h-4zM296 132h4v1h-4zM294 133h2v1h-2zM291 134h3v1h-3zM288 135h3v1h-3zM286 136h2v1h-2zM284 137h2v1h-2zM282 138h2v1h-2zM279 139h3v1h-3zM276 140h3v1h-3zM274 141h2v1h-2zM270 142h4v1h-4zM266 143h4v1h-4zM262 144h4v1h-4zM260 145h2v1h-2zM258 146h2v1h-2zM256 147h2v1h-2zM253 148h3v1h-3zM249 149h4v1h-4zM246 150h3v1h-3zM242 151h4v1h-4zM239 152h3v1h-3zM237 153h2v1h-2zM235 154h2v1h-2zM232 155h3v1h-3zM228 156h4v1h-4zM225 157h3v1h-3zM221 158h4v1h-4zM215 159h6v1h-6zM209 160h6v1h-6zM203 161h6v1h-6zM199 162h4v1h-4zM195 163h4v1h-4zM189 164h6v1h-6zM185 165h4v1h-4zM183 166h2v1h-2zM180 167h3v1h-3zM175 168h5v1h-5zM169 169h6v1h-6zM163 170h6v1h-6zM158 171h5v1h-5zM153 172h5v1h-5zM148 173h5v1h-5zM130 174h18v1h-18zM124 175h6v1h-6zM119 176h5v1h-5zM113 177h6v1h-6zM109 178h4v1h-4zM105 179h4v1h-4zM101 180h4v1h-4zM97 181h4v1h-4zM93 182h4v1h-4zM89 183h4v1h-4zM85 184h4v1h-4zM79 185h6v1h-6zM74 186h5v1h-5zM68 187h6v1h-6zM65 188h3v1h-3z" fill="#ff00ff"/><path d="M467 55h19v1h-19zM463 56h4v1h-4zM486 56h4v1h-4zM460 57h3v1h-3zM490 57h4v1h-4zM457 58h3v1h-3zM494 58h5v1h-5zM455 59h2v1h-2zM499 59h2v1h-2zM453 60h2v1h-2zM501 60h2v1h-2zM451 61h2v1h-2zM503 61h3v1h-3zM449 62h2v1h-2zM506 62h2v1h-2zM448 63h1v1h-1zM508 63h1v1h-1zM447 64h1v1h-1zM509 64h2v1h-2zM445 65h2v1h-2zM511 65h1v1h-1zM444 66h1v1h-1zM512 66h1v1h-1zM443 67h1v1h-1zM513 67h1v1h-1zM441 68h2v1h-2zM514 68h1v1h-1zM439 69h2v1h-2zM515 69h1v1h-1zM437 70h2v1h-2zM516 70h1v1h-1zM435 71h2v1h-2zM517 71h2v1h-2zM433 72h2v1h-2zM519 72h1v1h-1zM431 73h2v1h-2zM520 73h1v1h-1zM429 74h2v1h-2zM521 74h1v1h-1zM427 75h2v1h-2zM522 75h1v1h-1zM426 76h1v1h-1zM523 76h1v1h-1zM425 77h1v1h-1zM524 77h1v1h-1zM424 78h1v1h-1zM525 78h1v1h-1zM422 79h2v1h-2zM525 79h1v1h-1zM420 80h2v1h-2zM526 80h1v1h-1zM418 81h2v1h-2zM527 81h1v1h-1zM416 82h2v1h-2zM528 82h2v1h-2zM415 83h1v1h-1zM530 83h1v1h-1zM414 84h1v1h-1zM531 84h1v1h-1zM412 85h2v1h-2zM532 85h1v1h-1zM411 86h1v1h-1zM533 86h1v1h-1zM409 87h2v1h-2zM534 87h1v1h-1zM407 88h2v1h-2zM535 88h1v1h-1zM405 89h2v1h-2zM536 89h1v1h-1zM403 90h2v1h-2zM537 90h1v1h-1zM328 91h13v1h-13zM399 91h4v1h-4zM538 91h1v1h-1zM323 92h5v1h-5zM341 92h5v1h-5zM395 92h4v1h-4zM539 92h1v1h-1zM320 93h3v1h-3zM346 93h5v1h-5zM392 93h3v1h-3zM540 93h1v1h-1zM614 93h12v1h-12zM318 94h2v1h-2zM351 94h5v1h-5zM390 94h2v1h-2zM541 94h1v1h-1zM612 94h2v1h-2zM316 95h2v1h-2zM356 95h2v1h-2zM370 95h20v1h-20zM542 95h1v1h-1zM610 95h2v1h-2zM314 96h2v1h-2zM358 96h12v1h-12zM543 96h1v1h-1zM608 96h2v1h-2zM312 97h2v1h-2zM544 97h1v1h-1zM606 97h2v1h-2zM310 98h2v1h-2zM545 98h2v1h-2zM602 98h4v1h-4zM308 99h2v1h-2zM547 99h1v1h-1zM599 99h3v1h-3zM306 100h2v1h-2zM548 100h2v1h-2zM597 100h2v1h-2zM304 101h2v1h-2zM550 101h1v1h-1zM595 101h2v1h-2zM302 102h2v1h-2zM551 102h2v1h-2zM592 102h3v1h-3zM300 103h2v1h-2zM553 103h2v1h-2zM590 103h2v1h-2zM297 104h3v1h-3zM555 104h5v1h-5zM586 104h4v1h-4zM294 105h3v1h-3zM560 105h26v1h-26zM292 106h2v1h-2zM290 107h2v1h-2zM288 108h2v1h-2zM287 109h1v1h-1zM286 110h1v1h-1zM284 111h2v1h-2zM283 112h1v1h-1zM282 113h1v1h-1zM281 114h1v1h-1zM279 115h2v1h-2zM278 116h1v1h-1zM277 117h1v1h-1zM276 118h1v1h-1zM275 119h1v1h-1zM273 120h2v1h-2zM272 121h1v1h-1zM271 122h1v1h-1zM269 123h2v1h-2zM268 124h1v1h-1zM267 125h1v1h-1zM266 126h1v1h-1zM264 127h2v1h-2zM262 128h2v1h-2zM261 129h1v1h-1zM260 130h1v1h-1zM259 131h1v1h-1zM258 132h1v1h-1zM255 133h3v1h-3zM253 134h2v1h-2zM251 135h2v1h-2zM250 136h1v1h-1zM245 137h5v1h-5zM240 138h5v1h-5zM238 139h2v1h-2zM236 140h2v1h-2zM234 141h2v1h-2zM232 142h2v1h-2zM230 143h2v1h-2zM228 144h2v1h-2zM226 145h2v1h-2zM224 146h2v1h-2zM222 147h2v1h-2zM148 148h19v1h-19zM216 148h6v1h-6zM146 149h2v1h-2zM167 149h7v1h-7zM181 149h14v1h-14zM209 149h7v1h-7zM144 150h2v1h-2zM174 150h7v1h-7zM195 150h14v1h-14zM141 151h3v1h-3zM137 152h4v1h-4zM133 153h4v1h-4zM129 154h4v1h-4zM126 155h3v1h-3zM123 156h3v1h-3zM121 157h2v1h-2zM118 158h3v1h-3zM116 159h2v1h-2zM113 160h3v1h-3zM110 161h3v1h-3zM108 162h2v1h-2zM106 163h2v1h-2zM105 164h1v1h-1zM103 165h2v1h-2zM102 166h1v1h-1zM101 167h1v1h-1zM99 168h2v1h-2zM98 169h1v1h-1zM97 170h1v1h-1zM96 171h1v1h-1zM95 172h1v1h-1zM94 173h1v1h-1zM92 174h2v1h-2zM90 175h2v1h-2zM88 176h2v1h-2zM85 177h3v1h-3zM81 178h4v1h-4zM76 179h5v1h-5zM65 180h11v1h-11z" fill="#0a0a9c"/><path d="M457 50h10v1h-10zM456 51h1v1h-1zM467 51h13v1h-13zM455 52h1v1h-1zM480 52h2v1h-2zM453 53h2v1h-2zM482 53h2v1h-2zM452 54h1v1h-1zM484 54h2v1h-2zM451 55h1v1h-1zM486 55h1v1h-1zM449 56h2v1h-2zM487 56h1v1h-1zM445 57h4v1h-4zM488 57h1v1h-1zM442 58h3v1h-3zM489 58h1v1h-1zM438 59h4v1h-4zM490 59h1v1h-1zM433 60h5v1h-5zM490 60h1v1h-1zM430 61h3v1h-3zM491 61h1v1h-1zM428 62h2v1h-2zM491 62h1v1h-1zM426 63h2v1h-2zM492 63h1v1h-1zM424 64h2v1h-2zM492 64h1v1h-1zM422 65h2v1h-2zM493 65h2v1h-2zM420 66h2v1h-2zM495 66h2v1h-2zM418 67h2v1h-2zM497 67h2v1h-2zM416 68h2v1h-2zM499 68h3v1h-3zM414 69h2v1h-2zM502 69h2v1h-2zM413 70h1v1h-1zM504 70h2v1h-2zM412 71h1v1h-1zM506 71h1v1h-1zM411 72h1v1h-1zM507 72h1v1h-1zM410 73h1v1h-1zM508 73h1v1h-1zM409 74h1v1h-1zM509 74h1v1h-1zM408 75h1v1h-1zM510 75h1v1h-1zM406 76h2v1h-2zM510 76h1v1h-1zM405 77h1v1h-1zM511 77h1v1h-1zM404 78h1v1h-1zM512 78h1v1h-1zM402 79h2v1h-2zM513 79h1v1h-1zM401 80h1v1h-1zM513 80h1v1h-1zM400 81h1v1h-1zM514 81h1v1h-1zM399 82h1v1h-1zM515 82h1v1h-1zM397 83h2v1h-2zM515 83h1v1h-1zM396 84h1v1h-1zM516 84h1v1h-1zM395 85h1v1h-1zM516 85h1v1h-1zM393 86h2v1h-2zM517 86h1v1h-1zM392 87h1v1h-1zM517 87h1v1h-1zM391 88h1v1h-1zM518 88h1v1h-1zM390 89h1v1h-1zM518 89h1v1h-1zM306 90h16v1h-16zM388 90h2v1h-2zM519 90h1v1h-1zM579 90h16v1h-16zM294 91h12v1h-12zM322 91h6v1h-6zM335 91h5v1h-5zM387 91h1v1h-1zM520 91h1v1h-1zM577 91h2v1h-2zM595 91h5v1h-5zM292 92h2v1h-2zM328 92h7v1h-7zM340 92h2v1h-2zM386 92h1v1h-1zM521 92h1v1h-1zM575 92h2v1h-2zM600 92h4v1h-4zM290 93h2v1h-2zM342 93h3v1h-3zM384 93h2v1h-2zM521 93h1v1h-1zM575 93h1v1h-1zM604 93h2v1h-2zM289 94h1v1h-1zM345 94h2v1h-2zM383 94h1v1h-1zM522 94h1v1h-1zM574 94h1v1h-1zM606 94h2v1h-2zM288 95h1v1h-1zM347 95h2v1h-2zM382 95h1v1h-1zM523 95h2v1h-2zM574 95h1v1h-1zM608 95h1v1h-1zM287 96h1v1h-1zM349 96h2v1h-2zM380 96h2v1h-2zM525 96h1v1h-1zM573 96h1v1h-1zM609 96h1v1h-1zM286 97h1v1h-1zM351 97h1v1h-1zM378 97h2v1h-2zM526 97h1v1h-1zM573 97h1v1h-1zM610 97h16v1h-16zM285 98h1v1h-1zM352 98h2v1h-2zM376 98h2v1h-2zM527 98h1v1h-1zM572 98h1v1h-1zM284 99h1v1h-1zM354 99h3v1h-3zM374 99h2v1h-2zM528 99h1v1h-1zM571 99h1v1h-1zM283 100h1v1h-1zM357 100h17v1h-17zM529 100h1v1h-1zM570 100h1v1h-1zM282 101h1v1h-1zM529 101h1v1h-1zM569 101h1v1h-1zM281 102h1v1h-1zM530 102h1v1h-1zM569 102h1v1h-1zM281 103h1v1h-1zM531 103h1v1h-1zM568 103h1v1h-1zM280 104h1v1h-1zM531 104h1v1h-1zM567 104h1v1h-1zM279 105h1v1h-1zM532 105h1v1h-1zM566 105h1v1h-1zM278 106h1v1h-1zM533 106h1v1h-1zM565 106h1v1h-1zM277 107h1v1h-1zM533 107h1v1h-1zM564 107h1v1h-1zM276 108h1v1h-1zM534 108h1v1h-1zM563 108h1v1h-1zM275 109h1v1h-1zM535 109h1v1h-1zM561 109h2v1h-2zM273 110h2v1h-2zM535 110h1v1h-1zM560 110h1v1h-1zM272 111h1v1h-1zM536 111h1v1h-1zM559 111h1v1h-1zM271 112h1v1h-1zM536 112h1v1h-1zM558 112h1v1h-1zM270 113h1v1h-1zM537 113h1v1h-1zM557 113h1v1h-1zM269 114h1v1h-1zM538 114h1v1h-1zM556 114h1v1h-1zM268 115h1v1h-1zM538 115h1v1h-1zM555 115h1v1h-1zM266 116h2v1h-2zM539 116h1v1h-1zM553 116h2v1h-2zM263 117h3v1h-3zM540 117h1v1h-1zM552 117h1v1h-1zM261 118h2v1h-2zM540 118h1v1h-1zM551 118h1v1h-1zM259 119h2v1h-2zM541 119h3v1h-3zM548 119h3v1h-3zM257 120h2v1h-2zM544 120h4v1h-4zM255 121h2v1h-2zM254 122h1v1h-1zM252 123h2v1h-2zM250 124h2v1h-2zM248 125h2v1h-2zM246 126h2v1h-2zM244 127h2v1h-2zM242 128h2v1h-2zM239 129h3v1h-3zM237 130h2v1h-2zM235 131h2v1h-2zM234 132h1v1h-1zM233 133h1v1h-1zM232 134h1v1h-1zM230 135h2v1h-2zM229 136h1v1h-1zM228 137h1v1h-1zM227 138h1v1h-1zM226 139h1v1h-1zM225 140h1v1h-1zM224 141h1v1h-1zM223 142h1v1h-1zM223 143h1v1h-1zM222 144h1v1h-1zM221 145h1v1h-1zM148 146h5v1h-5zM219 146h2v1h-2zM146 147h2v1h-2zM153 147h5v1h-5zM217 147h2v1h-2zM128 148h11v1h-11zM144 148h2v1h-2zM158 148h4v1h-4zM215 148h2v1h-2zM121 149h7v1h-7zM139 149h5v1h-5zM162 149h3v1h-3zM211 149h4v1h-4zM115 150h6v1h-6zM165 150h4v1h-4zM207 150h4v1h-4zM111 151h4v1h-4zM169 151h12v1h-12zM195 151h12v1h-12zM109 152h2v1h-2zM181 152h14v1h-14zM107 153h2v1h-2zM105 154h2v1h-2zM103 155h2v1h-2zM102 156h1v1h-1zM101 157h1v1h-1zM100 158h1v1h-1zM98 159h2v1h-2zM96 160h2v1h-2zM94 161h2v1h-2zM92 162h2v1h-2zM87 163h5v1h-5zM86 164h1v1h-1zM85 165h1v1h-1zM84 166h1v1h-1zM83 167h1v1h-1zM81 168h2v1h-2zM80 169h1v1h-1zM79 170h1v1h-1zM77 171h2v1h-2zM75 172h2v1h-2zM73 173h2v1h-2zM72 174h1v1h-1zM70 175h2v1h-2zM68 176h2v1h-2zM66 177h2v1h-2zM65 178h1v1h-1z" fill="#000000"/></g><g shape-rendering="crispEdges"><line x1="62" y1="96.5" x2="658" y2="96.5" stroke="#1e88f0" stroke-width="1" stroke-dasharray="3 3"/></g><g shape-rendering="crispEdges"><line x1="464.5" y1="36" x2="464.5" y2="40" stroke="#000"/><line x1="462" y1="38.5" x2="469" y2="38.5" stroke="#000"/><line x1="79.5" y1="177" x2="79.5" y2="181" stroke="#000"/><line x1="77" y1="179.5" x2="84" y2="179.5" stroke="#000"/><line x1="534.5" y1="136" x2="534.5" y2="140" stroke="#000"/><line x1="532" y1="138.5" x2="539" y2="138.5" stroke="#000"/></g><g shape-rendering="crispEdges"><line x1="65.5" y1="313" x2="65.5" y2="317" stroke="#d8413a"/><line x1="72.5" y1="314" x2="72.5" y2="317" stroke="#d8413a"/><line x1="79.5" y1="314" x2="79.5" y2="317" stroke="#d8413a"/><line x1="86.5" y1="311" x2="86.5" y2="317" stroke="#d8413a"/><line x1="93.5" y1="310" x2="93.5" y2="317" stroke="#d8413a"/><line x1="100.5" y1="309" x2="100.5" y2="317" stroke="#d8413a"/><line x1="107.5" y1="309" x2="107.5" y2="317" stroke="#d8413a"/><line x1="114.5" y1="311" x2="114.5" y2="317" stroke="#d8413a"/><line x1="121.5" y1="312" x2="121.5" y2="317" stroke="#d8413a"/><line x1="128.5" y1="312" x2="128.5" y2="317" stroke="#d8413a"/><line x1="135.5" y1="312" x2="135.5" y2="317" stroke="#d8413a"/><line x1="142.5" y1="314" x2="142.5" y2="317" stroke="#d8413a"/><line x1="149.5" y1="315" x2="149.5" y2="317" stroke="#d8413a"/><line x1="156.5" y1="316" x2="156.5" y2="317" stroke="#d8413a"/><line x1="163.5" y1="316" x2="163.5" y2="319" stroke="#4f9d4a"/><line x1="170.5" y1="316" x2="170.5" y2="321" stroke="#4f9d4a"/><line x1="177.5" y1="316" x2="177.5" y2="322" stroke="#4f9d4a"/><line x1="184.5" y1="316" x2="184.5" y2="321" stroke="#4f9d4a"/><line x1="191.5" y1="316" x2="191.5" y2="322" stroke="#4f9d4a"/><line x1="198.5" y1="316" x2="198.5" y2="322" stroke="#4f9d4a"/><line x1="205.5" y1="316" x2="205.5" y2="321" stroke="#4f9d4a"/><line x1="212.5" y1="316" x2="212.5" y2="321" stroke="#4f9d4a"/><line x1="219.5" y1="316" x2="219.5" y2="318" stroke="#4f9d4a"/><line x1="226.5" y1="314" x2="226.5" y2="317" stroke="#d8413a"/><line x1="233.5" y1="312" x2="233.5" y2="317" stroke="#d8413a"/><line x1="240.5" y1="312" x2="240.5" y2="317" stroke="#d8413a"/><line x1="247.5" y1="313" x2="247.5" y2="317" stroke="#d8413a"/><line x1="254.5" y1="313" x2="254.5" y2="317" stroke="#d8413a"/><line x1="261.5" y1="310" x2="261.5" y2="317" stroke="#d8413a"/><line x1="268.5" y1="309" x2="268.5" y2="317" stroke="#d8413a"/><line x1="275.5" y1="307" x2="275.5" y2="317" stroke="#d8413a"/><line x1="282.5" y1="307" x2="282.5" y2="317" stroke="#d8413a"/><line x1="289.5" y1="306" x2="289.5" y2="317" stroke="#d8413a"/><line x1="296.5" y1="308" x2="296.5" y2="317" stroke="#d8413a"/><line x1="303.5" y1="311" x2="303.5" y2="317" stroke="#d8413a"/><line x1="310.5" y1="312" x2="310.5" y2="317" stroke="#d8413a"/><line x1="317.5" y1="313" x2="317.5" y2="317" stroke="#d8413a"/><line x1="324.5" y1="315" x2="324.5" y2="317" stroke="#d8413a"/><line x1="331.5" y1="316" x2="331.5" y2="318" stroke="#4f9d4a"/><line x1="338.5" y1="316" x2="338.5" y2="320" stroke="#4f9d4a"/><line x1="345.5" y1="316" x2="345.5" y2="323" stroke="#4f9d4a"/><line x1="352.5" y1="316" x2="352.5" y2="325" stroke="#4f9d4a"/><line x1="359.5" y1="316" x2="359.5" y2="326" stroke="#4f9d4a"/><line x1="366.5" y1="316" x2="366.5" y2="324" stroke="#4f9d4a"/><line x1="373.5" y1="316" x2="373.5" y2="323" stroke="#4f9d4a"/><line x1="380.5" y1="316" x2="380.5" y2="322" stroke="#4f9d4a"/><line x1="387.5" y1="316" x2="387.5" y2="321" stroke="#4f9d4a"/><line x1="394.5" y1="316" x2="394.5" y2="319" stroke="#4f9d4a"/><line x1="401.5" y1="315" x2="401.5" y2="317" stroke="#d8413a"/><line x1="408.5" y1="313" x2="408.5" y2="317" stroke="#d8413a"/><line x1="415.5" y1="311" x2="415.5" y2="317" stroke="#d8413a"/><line x1="422.5" y1="312" x2="422.5" y2="317" stroke="#d8413a"/><line x1="429.5" y1="312" x2="429.5" y2="317" stroke="#d8413a"/><line x1="436.5" y1="312" x2="436.5" y2="317" stroke="#d8413a"/><line x1="443.5" y1="313" x2="443.5" y2="317" stroke="#d8413a"/><line x1="450.5" y1="312" x2="450.5" y2="317" stroke="#d8413a"/><line x1="457.5" y1="311" x2="457.5" y2="317" stroke="#d8413a"/><line x1="464.5" y1="314" x2="464.5" y2="317" stroke="#d8413a"/><line x1="471.5" y1="316" x2="471.5" y2="318" stroke="#4f9d4a"/><line x1="478.5" y1="316" x2="478.5" y2="320" stroke="#4f9d4a"/><line x1="485.5" y1="316" x2="485.5" y2="321" stroke="#4f9d4a"/><line x1="492.5" y1="316" x2="492.5" y2="327" stroke="#4f9d4a"/><line x1="499.5" y1="316" x2="499.5" y2="328" stroke="#4f9d4a"/><line x1="506.5" y1="316" x2="506.5" y2="329" stroke="#4f9d4a"/><line x1="513.5" y1="316" x2="513.5" y2="334" stroke="#4f9d4a"/><line x1="520.5" y1="316" x2="520.5" y2="338" stroke="#4f9d4a"/><line x1="527.5" y1="316" x2="527.5" y2="341" stroke="#4f9d4a"/><line x1="534.5" y1="316" x2="534.5" y2="341" stroke="#4f9d4a"/><line x1="541.5" y1="316" x2="541.5" y2="341" stroke="#4f9d4a"/><line x1="548.5" y1="316" x2="548.5" y2="338" stroke="#4f9d4a"/><line x1="555.5" y1="316" x2="555.5" y2="332" stroke="#4f9d4a"/><line x1="562.5" y1="316" x2="562.5" y2="327" stroke="#4f9d4a"/><line x1="569.5" y1="316" x2="569.5" y2="322" stroke="#4f9d4a"/><line x1="576.5" y1="314" x2="576.5" y2="317" stroke="#d8413a"/><line x1="583.5" y1="316" x2="583.5" y2="317" stroke="#d8413a"/><line x1="590.5" y1="316" x2="590.5" y2="318" stroke="#4f9d4a"/><line x1="597.5" y1="316" x2="597.5" y2="318" stroke="#4f9d4a"/><line x1="604.5" y1="316" x2="604.5" y2="317" stroke="#4f9d4a"/><line x1="611.5" y1="315" x2="611.5" y2="317" stroke="#d8413a"/><line x1="618.5" y1="315" x2="618.5" y2="317" stroke="#d8413a"/><line x1="625.5" y1="315" x2="625.5" y2="317" stroke="#d8413a"/></g><g shape-rendering="crispEdges"><path d="M284 293h35v1h-35zM280 294h4v1h-4zM319 294h9v1h-9zM451 294h13v1h-13zM276 295h4v1h-4zM328 295h4v1h-4zM444 295h7v1h-7zM464 295h6v1h-6zM273 296h3v1h-3zM332 296h3v1h-3zM424 296h20v1h-20zM470 296h4v1h-4zM270 297h3v1h-3zM335 297h4v1h-4zM412 297h12v1h-12zM474 297h4v1h-4zM266 298h4v1h-4zM339 298h4v1h-4zM408 298h4v1h-4zM478 298h4v1h-4zM261 299h5v1h-5zM343 299h5v1h-5zM403 299h5v1h-5zM482 299h4v1h-4zM124 300h12v1h-12zM254 300h7v1h-7zM348 300h4v1h-4zM398 300h5v1h-5zM486 300h2v1h-2zM104 301h20v1h-20zM136 301h20v1h-20zM242 301h12v1h-12zM352 301h3v1h-3zM390 301h8v1h-8zM488 301h2v1h-2zM98 302h6v1h-6zM156 302h7v1h-7zM232 302h10v1h-10zM355 302h8v1h-8zM377 302h13v1h-13zM490 302h2v1h-2zM91 303h7v1h-7zM163 303h7v1h-7zM229 303h3v1h-3zM363 303h14v1h-14zM492 303h4v1h-4zM86 304h5v1h-5zM170 304h15v1h-15zM224 304h5v1h-5zM496 304h4v1h-4zM83 305h3v1h-3zM185 305h5v1h-5zM219 305h5v1h-5zM500 305h4v1h-4zM78 306h5v1h-5zM190 306h4v1h-4zM217 306h2v1h-2zM504 306h2v1h-2zM64 307h14v1h-14zM194 307h23v1h-23zM506 307h2v1h-2zM508 308h1v1h-1zM509 309h1v1h-1zM510 310h2v1h-2zM512 311h1v1h-1zM513 312h2v1h-2zM515 313h2v1h-2zM517 314h2v1h-2zM519 315h1v1h-1zM520 316h2v1h-2zM522 317h1v1h-1zM523 318h1v1h-1zM524 319h2v1h-2zM526 320h2v1h-2zM574 320h6v1h-6zM608 320h18v1h-18zM528 321h2v1h-2zM571 321h3v1h-3zM580 321h28v1h-28zM530 322h2v1h-2zM569 322h2v1h-2zM532 323h2v1h-2zM567 323h2v1h-2zM534 324h2v1h-2zM565 324h2v1h-2zM536 325h2v1h-2zM563 325h2v1h-2zM538 326h2v1h-2zM558 326h5v1h-5zM540 327h4v1h-4zM551 327h7v1h-7zM544 328h7v1h-7z" fill="#000000"/><path d="M310 295h32v1h-32zM300 296h10v1h-10zM342 296h6v1h-6zM458 296h23v1h-23zM289 297h11v1h-11zM348 297h6v1h-6zM451 297h7v1h-7zM481 297h8v1h-8zM281 298h8v1h-8zM354 298h6v1h-6zM426 298h25v1h-25zM489 298h4v1h-4zM275 299h6v1h-6zM360 299h7v1h-7zM412 299h14v1h-14zM493 299h5v1h-5zM270 300h5v1h-5zM367 300h10v1h-10zM400 300h12v1h-12zM498 300h4v1h-4zM264 301h6v1h-6zM377 301h23v1h-23zM502 301h5v1h-5zM132 302h41v1h-41zM259 302h5v1h-5zM507 302h4v1h-4zM127 303h5v1h-5zM173 303h14v1h-14zM253 303h6v1h-6zM511 303h2v1h-2zM107 304h20v1h-20zM187 304h8v1h-8zM237 304h16v1h-16zM513 304h2v1h-2zM103 305h4v1h-4zM195 305h21v1h-21zM220 305h17v1h-17zM515 305h2v1h-2zM98 306h5v1h-5zM216 306h4v1h-4zM517 306h3v1h-3zM92 307h6v1h-6zM520 307h2v1h-2zM78 308h14v1h-14zM522 308h3v1h-3zM64 309h14v1h-14zM525 309h3v1h-3zM528 310h3v1h-3zM531 311h3v1h-3zM534 312h3v1h-3zM537 313h2v1h-2zM539 314h2v1h-2zM541 315h3v1h-3zM544 316h2v1h-2zM546 317h2v1h-2zM548 318h5v1h-5zM553 319h5v1h-5zM558 320h3v1h-3zM561 321h65v1h-65z" fill="#0a0a9c"/><rect x="608" y="320" width="17" height="2" fill="#000"/></g><clipPath id="psyclip"><rect x="61" y="342" width="600" height="108"/></clipPath><g shape-rendering="crispEdges" clip-path="url(#psyclip)"><path d="M625 364h1v1h-1zM624 365h1v1h-1zM624 366h1v1h-1zM623 367h1v1h-1zM623 368h1v1h-1zM622 369h1v1h-1zM622 370h1v1h-1zM621 371h1v1h-1zM620 372h1v1h-1zM620 373h1v1h-1zM619 374h1v1h-1zM619 375h1v1h-1zM275 376h1v1h-1zM436 376h1v1h-1zM457 376h1v1h-1zM611 376h8v1h-8zM274 377h1v1h-1zM276 377h1v1h-1zM435 377h1v1h-1zM437 377h1v1h-1zM456 377h1v1h-1zM458 377h1v1h-1zM610 377h1v1h-1zM274 378h1v1h-1zM276 378h1v1h-1zM435 378h1v1h-1zM437 378h1v1h-1zM456 378h1v1h-1zM458 378h1v1h-1zM610 378h1v1h-1zM273 379h1v1h-1zM277 379h1v1h-1zM434 379h1v1h-1zM438 379h1v1h-1zM455 379h1v1h-1zM459 379h1v1h-1zM609 379h1v1h-1zM273 380h1v1h-1zM277 380h1v1h-1zM434 380h1v1h-1zM438 380h1v1h-1zM455 380h1v1h-1zM459 380h1v1h-1zM609 380h1v1h-1zM272 381h1v1h-1zM278 381h1v1h-1zM433 381h1v1h-1zM439 381h1v1h-1zM454 381h1v1h-1zM460 381h1v1h-1zM608 381h1v1h-1zM272 382h1v1h-1zM279 382h1v1h-1zM433 382h1v1h-1zM440 382h1v1h-1zM454 382h1v1h-1zM461 382h1v1h-1zM608 382h1v1h-1zM271 383h1v1h-1zM279 383h1v1h-1zM432 383h1v1h-1zM440 383h1v1h-1zM453 383h1v1h-1zM461 383h1v1h-1zM607 383h1v1h-1zM270 384h1v1h-1zM280 384h1v1h-1zM431 384h1v1h-1zM441 384h1v1h-1zM452 384h1v1h-1zM462 384h1v1h-1zM606 384h1v1h-1zM270 385h1v1h-1zM280 385h1v1h-1zM431 385h1v1h-1zM441 385h1v1h-1zM452 385h1v1h-1zM462 385h1v1h-1zM606 385h1v1h-1zM269 386h1v1h-1zM281 386h1v1h-1zM430 386h1v1h-1zM442 386h1v1h-1zM451 386h1v1h-1zM463 386h1v1h-1zM605 386h1v1h-1zM269 387h1v1h-1zM281 387h1v1h-1zM430 387h1v1h-1zM442 387h1v1h-1zM451 387h1v1h-1zM463 387h1v1h-1zM605 387h1v1h-1zM254 388h15v1h-15zM282 388h15v1h-15zM429 388h1v1h-1zM443 388h8v1h-8zM464 388h1v1h-1zM604 388h1v1h-1zM253 389h1v1h-1zM297 389h1v1h-1zM428 389h1v1h-1zM465 389h1v1h-1zM603 389h1v1h-1zM253 390h1v1h-1zM297 390h1v1h-1zM428 390h1v1h-1zM465 390h1v1h-1zM603 390h1v1h-1zM252 391h1v1h-1zM298 391h1v1h-1zM427 391h1v1h-1zM466 391h1v1h-1zM602 391h1v1h-1zM252 392h1v1h-1zM298 392h1v1h-1zM427 392h1v1h-1zM466 392h1v1h-1zM602 392h1v1h-1zM251 393h1v1h-1zM299 393h1v1h-1zM426 393h1v1h-1zM467 393h1v1h-1zM601 393h1v1h-1zM251 394h1v1h-1zM299 394h1v1h-1zM426 394h1v1h-1zM467 394h1v1h-1zM601 394h1v1h-1zM250 395h1v1h-1zM300 395h1v1h-1zM425 395h1v1h-1zM468 395h1v1h-1zM600 395h1v1h-1zM250 396h1v1h-1zM300 396h1v1h-1zM425 396h1v1h-1zM468 396h1v1h-1zM600 396h1v1h-1zM249 397h1v1h-1zM301 397h1v1h-1zM424 397h1v1h-1zM469 397h1v1h-1zM599 397h1v1h-1zM249 398h1v1h-1zM301 398h1v1h-1zM424 398h1v1h-1zM469 398h1v1h-1zM599 398h1v1h-1zM248 399h1v1h-1zM302 399h1v1h-1zM423 399h1v1h-1zM470 399h1v1h-1zM598 399h1v1h-1zM248 400h1v1h-1zM302 400h1v1h-1zM423 400h1v1h-1zM470 400h1v1h-1zM598 400h1v1h-1zM121 401h15v1h-15zM149 401h8v1h-8zM198 401h8v1h-8zM226 401h22v1h-22zM303 401h8v1h-8zM415 401h8v1h-8zM471 401h36v1h-36zM597 401h1v1h-1zM120 402h1v1h-1zM136 402h1v1h-1zM148 402h1v1h-1zM157 402h1v1h-1zM197 402h1v1h-1zM206 402h1v1h-1zM225 402h1v1h-1zM311 402h1v1h-1zM414 402h1v1h-1zM507 402h1v1h-1zM596 402h1v1h-1zM120 403h1v1h-1zM136 403h1v1h-1zM148 403h1v1h-1zM157 403h1v1h-1zM197 403h1v1h-1zM206 403h1v1h-1zM225 403h1v1h-1zM311 403h1v1h-1zM414 403h1v1h-1zM507 403h1v1h-1zM596 403h1v1h-1zM119 404h1v1h-1zM137 404h1v1h-1zM147 404h1v1h-1zM158 404h1v1h-1zM196 404h1v1h-1zM207 404h1v1h-1zM224 404h1v1h-1zM312 404h1v1h-1zM413 404h1v1h-1zM508 404h1v1h-1zM595 404h1v1h-1zM119 405h1v1h-1zM137 405h1v1h-1zM147 405h1v1h-1zM158 405h1v1h-1zM196 405h1v1h-1zM207 405h1v1h-1zM224 405h1v1h-1zM312 405h1v1h-1zM413 405h1v1h-1zM508 405h1v1h-1zM595 405h1v1h-1zM118 406h1v1h-1zM138 406h1v1h-1zM146 406h1v1h-1zM159 406h1v1h-1zM195 406h1v1h-1zM208 406h1v1h-1zM223 406h1v1h-1zM313 406h1v1h-1zM412 406h1v1h-1zM509 406h1v1h-1zM594 406h1v1h-1zM118 407h1v1h-1zM139 407h1v1h-1zM146 407h1v1h-1zM160 407h1v1h-1zM195 407h1v1h-1zM209 407h1v1h-1zM223 407h1v1h-1zM314 407h1v1h-1zM412 407h1v1h-1zM510 407h1v1h-1zM594 407h1v1h-1zM117 408h1v1h-1zM139 408h1v1h-1zM145 408h1v1h-1zM160 408h1v1h-1zM194 408h1v1h-1zM209 408h1v1h-1zM222 408h1v1h-1zM314 408h1v1h-1zM411 408h1v1h-1zM510 408h1v1h-1zM593 408h1v1h-1zM116 409h1v1h-1zM140 409h1v1h-1zM144 409h1v1h-1zM161 409h1v1h-1zM193 409h1v1h-1zM210 409h1v1h-1zM221 409h1v1h-1zM315 409h1v1h-1zM410 409h1v1h-1zM511 409h1v1h-1zM592 409h1v1h-1zM116 410h1v1h-1zM140 410h1v1h-1zM144 410h1v1h-1zM161 410h1v1h-1zM193 410h1v1h-1zM210 410h1v1h-1zM221 410h1v1h-1zM315 410h1v1h-1zM410 410h1v1h-1zM511 410h1v1h-1zM592 410h1v1h-1zM115 411h1v1h-1zM141 411h1v1h-1zM143 411h1v1h-1zM162 411h1v1h-1zM192 411h1v1h-1zM211 411h1v1h-1zM220 411h1v1h-1zM316 411h1v1h-1zM409 411h1v1h-1zM512 411h1v1h-1zM591 411h1v1h-1zM115 412h1v1h-1zM141 412h1v1h-1zM143 412h1v1h-1zM162 412h1v1h-1zM192 412h1v1h-1zM211 412h1v1h-1zM220 412h1v1h-1zM316 412h1v1h-1zM409 412h1v1h-1zM512 412h1v1h-1zM591 412h1v1h-1zM100 413h15v1h-15zM142 413h1v1h-1zM163 413h1v1h-1zM177 413h15v1h-15zM212 413h8v1h-8zM317 413h15v1h-15zM401 413h8v1h-8zM513 413h1v1h-1zM576 413h1v1h-1zM590 413h1v1h-1zM99 414h1v1h-1zM164 414h1v1h-1zM176 414h1v1h-1zM332 414h1v1h-1zM400 414h1v1h-1zM514 414h1v1h-1zM575 414h1v1h-1zM577 414h1v1h-1zM589 414h1v1h-1zM99 415h1v1h-1zM164 415h1v1h-1zM176 415h1v1h-1zM332 415h1v1h-1zM400 415h1v1h-1zM514 415h1v1h-1zM575 415h1v1h-1zM577 415h1v1h-1zM589 415h1v1h-1zM98 416h1v1h-1zM165 416h1v1h-1zM175 416h1v1h-1zM333 416h1v1h-1zM399 416h1v1h-1zM515 416h1v1h-1zM574 416h1v1h-1zM578 416h1v1h-1zM588 416h1v1h-1zM98 417h1v1h-1zM165 417h1v1h-1zM175 417h1v1h-1zM333 417h1v1h-1zM399 417h1v1h-1zM515 417h1v1h-1zM574 417h1v1h-1zM578 417h1v1h-1zM588 417h1v1h-1zM97 418h1v1h-1zM166 418h1v1h-1zM174 418h1v1h-1zM334 418h1v1h-1zM398 418h1v1h-1zM516 418h1v1h-1zM573 418h1v1h-1zM579 418h1v1h-1zM587 418h1v1h-1zM97 419h1v1h-1zM166 419h1v1h-1zM174 419h1v1h-1zM334 419h1v1h-1zM398 419h1v1h-1zM516 419h1v1h-1zM573 419h1v1h-1zM579 419h1v1h-1zM587 419h1v1h-1zM96 420h1v1h-1zM167 420h1v1h-1zM173 420h1v1h-1zM335 420h1v1h-1zM397 420h1v1h-1zM517 420h1v1h-1zM572 420h1v1h-1zM580 420h1v1h-1zM586 420h1v1h-1zM96 421h1v1h-1zM167 421h1v1h-1zM173 421h1v1h-1zM335 421h1v1h-1zM397 421h1v1h-1zM517 421h1v1h-1zM572 421h1v1h-1zM580 421h1v1h-1zM586 421h1v1h-1zM95 422h1v1h-1zM168 422h1v1h-1zM172 422h1v1h-1zM336 422h1v1h-1zM396 422h1v1h-1zM518 422h1v1h-1zM571 422h1v1h-1zM581 422h1v1h-1zM585 422h1v1h-1zM95 423h1v1h-1zM168 423h1v1h-1zM172 423h1v1h-1zM336 423h1v1h-1zM396 423h1v1h-1zM518 423h1v1h-1zM571 423h1v1h-1zM581 423h1v1h-1zM585 423h1v1h-1zM94 424h1v1h-1zM169 424h1v1h-1zM171 424h1v1h-1zM337 424h1v1h-1zM395 424h1v1h-1zM519 424h1v1h-1zM570 424h1v1h-1zM582 424h1v1h-1zM584 424h1v1h-1zM94 425h1v1h-1zM169 425h1v1h-1zM171 425h1v1h-1zM337 425h1v1h-1zM395 425h1v1h-1zM519 425h1v1h-1zM570 425h1v1h-1zM582 425h1v1h-1zM584 425h1v1h-1zM65 426h29v1h-29zM170 426h1v1h-1zM338 426h1v1h-1zM387 426h8v1h-8zM520 426h8v1h-8zM555 426h15v1h-15zM583 426h1v1h-1zM339 427h1v1h-1zM386 427h1v1h-1zM528 427h1v1h-1zM554 427h1v1h-1zM339 428h1v1h-1zM386 428h1v1h-1zM528 428h1v1h-1zM554 428h1v1h-1zM340 429h1v1h-1zM385 429h1v1h-1zM529 429h1v1h-1zM553 429h1v1h-1zM340 430h1v1h-1zM385 430h1v1h-1zM529 430h1v1h-1zM553 430h1v1h-1zM341 431h1v1h-1zM384 431h1v1h-1zM530 431h1v1h-1zM552 431h1v1h-1zM342 432h1v1h-1zM384 432h1v1h-1zM531 432h1v1h-1zM552 432h1v1h-1zM342 433h1v1h-1zM383 433h1v1h-1zM531 433h1v1h-1zM551 433h1v1h-1zM343 434h1v1h-1zM382 434h1v1h-1zM532 434h1v1h-1zM550 434h1v1h-1zM343 435h1v1h-1zM382 435h1v1h-1zM532 435h1v1h-1zM550 435h1v1h-1zM344 436h1v1h-1zM381 436h1v1h-1zM533 436h1v1h-1zM549 436h1v1h-1zM344 437h1v1h-1zM381 437h1v1h-1zM533 437h1v1h-1zM549 437h1v1h-1zM345 438h1v1h-1zM366 438h1v1h-1zM380 438h1v1h-1zM534 438h1v1h-1zM548 438h1v1h-1zM346 439h1v1h-1zM365 439h1v1h-1zM367 439h1v1h-1zM379 439h1v1h-1zM535 439h1v1h-1zM547 439h1v1h-1zM346 440h1v1h-1zM365 440h1v1h-1zM367 440h1v1h-1zM379 440h1v1h-1zM535 440h1v1h-1zM547 440h1v1h-1zM347 441h1v1h-1zM364 441h1v1h-1zM368 441h1v1h-1zM378 441h1v1h-1zM536 441h1v1h-1zM546 441h1v1h-1zM348 442h1v1h-1zM363 442h1v1h-1zM369 442h1v1h-1zM377 442h1v1h-1zM537 442h1v1h-1zM545 442h1v1h-1zM348 443h1v1h-1zM363 443h1v1h-1zM369 443h1v1h-1zM377 443h1v1h-1zM537 443h1v1h-1zM545 443h1v1h-1zM349 444h1v1h-1zM362 444h1v1h-1zM370 444h1v1h-1zM376 444h1v1h-1zM538 444h1v1h-1zM544 444h1v1h-1zM349 445h1v1h-1zM362 445h1v1h-1zM370 445h1v1h-1zM376 445h1v1h-1zM538 445h1v1h-1zM544 445h1v1h-1zM350 446h1v1h-1zM361 446h1v1h-1zM371 446h1v1h-1zM375 446h1v1h-1zM539 446h1v1h-1zM543 446h1v1h-1zM351 447h1v1h-1zM360 447h1v1h-1zM372 447h1v1h-1zM374 447h1v1h-1zM540 447h1v1h-1zM542 447h1v1h-1zM351 448h1v1h-1zM360 448h1v1h-1zM372 448h1v1h-1zM374 448h1v1h-1zM540 448h1v1h-1zM542 448h1v1h-1zM352 449h8v1h-8zM373 449h1v1h-1zM541 449h1v1h-1z" fill="#000000"/><path d="M462 384h5v1h-5zM460 385h2v1h-2zM467 385h4v1h-4zM286 386h13v1h-13zM457 386h3v1h-3zM471 386h2v1h-2zM282 387h4v1h-4zM299 387h4v1h-4zM455 387h2v1h-2zM473 387h2v1h-2zM625 387h1v1h-1zM278 388h4v1h-4zM303 388h4v1h-4zM453 388h2v1h-2zM475 388h2v1h-2zM624 388h1v1h-1zM276 389h2v1h-2zM307 389h3v1h-3zM451 389h2v1h-2zM477 389h2v1h-2zM624 389h1v1h-1zM274 390h2v1h-2zM310 390h1v1h-1zM450 390h1v1h-1zM479 390h2v1h-2zM623 390h1v1h-1zM273 391h1v1h-1zM311 391h1v1h-1zM449 391h1v1h-1zM481 391h2v1h-2zM622 391h1v1h-1zM272 392h1v1h-1zM312 392h1v1h-1zM447 392h2v1h-2zM483 392h2v1h-2zM621 392h1v1h-1zM270 393h2v1h-2zM313 393h1v1h-1zM446 393h1v1h-1zM485 393h4v1h-4zM621 393h1v1h-1zM268 394h2v1h-2zM314 394h2v1h-2zM445 394h1v1h-1zM489 394h3v1h-3zM620 394h1v1h-1zM266 395h2v1h-2zM316 395h1v1h-1zM443 395h2v1h-2zM492 395h2v1h-2zM619 395h1v1h-1zM263 396h3v1h-3zM317 396h1v1h-1zM441 396h2v1h-2zM494 396h2v1h-2zM618 396h1v1h-1zM261 397h2v1h-2zM318 397h1v1h-1zM440 397h1v1h-1zM496 397h2v1h-2zM618 397h1v1h-1zM259 398h2v1h-2zM319 398h1v1h-1zM438 398h2v1h-2zM498 398h2v1h-2zM617 398h1v1h-1zM257 399h2v1h-2zM320 399h2v1h-2zM437 399h1v1h-1zM500 399h2v1h-2zM616 399h1v1h-1zM255 400h2v1h-2zM322 400h2v1h-2zM436 400h1v1h-1zM502 400h2v1h-2zM615 400h1v1h-1zM253 401h2v1h-2zM324 401h2v1h-2zM435 401h1v1h-1zM504 401h4v1h-4zM614 401h1v1h-1zM251 402h2v1h-2zM326 402h2v1h-2zM434 402h1v1h-1zM508 402h3v1h-3zM613 402h1v1h-1zM154 403h3v1h-3zM249 403h2v1h-2zM328 403h2v1h-2zM433 403h1v1h-1zM511 403h2v1h-2zM612 403h1v1h-1zM150 404h4v1h-4zM157 404h2v1h-2zM240 404h9v1h-9zM330 404h1v1h-1zM432 404h1v1h-1zM513 404h2v1h-2zM611 404h1v1h-1zM144 405h6v1h-6zM159 405h3v1h-3zM230 405h10v1h-10zM331 405h1v1h-1zM431 405h1v1h-1zM515 405h2v1h-2zM610 405h1v1h-1zM140 406h4v1h-4zM162 406h3v1h-3zM225 406h5v1h-5zM332 406h2v1h-2zM430 406h1v1h-1zM517 406h2v1h-2zM609 406h1v1h-1zM136 407h4v1h-4zM165 407h2v1h-2zM223 407h2v1h-2zM334 407h1v1h-1zM429 407h1v1h-1zM519 407h2v1h-2zM608 407h1v1h-1zM133 408h3v1h-3zM167 408h2v1h-2zM221 408h2v1h-2zM335 408h1v1h-1zM428 408h1v1h-1zM521 408h2v1h-2zM607 408h1v1h-1zM131 409h2v1h-2zM169 409h2v1h-2zM212 409h9v1h-9zM336 409h1v1h-1zM427 409h1v1h-1zM523 409h1v1h-1zM606 409h1v1h-1zM129 410h2v1h-2zM171 410h5v1h-5zM208 410h4v1h-4zM337 410h1v1h-1zM426 410h1v1h-1zM524 410h2v1h-2zM605 410h1v1h-1zM126 411h3v1h-3zM176 411h9v1h-9zM205 411h3v1h-3zM338 411h2v1h-2zM425 411h1v1h-1zM526 411h2v1h-2zM604 411h1v1h-1zM124 412h2v1h-2zM185 412h9v1h-9zM201 412h4v1h-4zM340 412h1v1h-1zM423 412h2v1h-2zM528 412h1v1h-1zM603 412h1v1h-1zM122 413h2v1h-2zM194 413h7v1h-7zM341 413h1v1h-1zM422 413h1v1h-1zM529 413h1v1h-1zM602 413h1v1h-1zM120 414h2v1h-2zM342 414h1v1h-1zM421 414h1v1h-1zM530 414h1v1h-1zM601 414h1v1h-1zM118 415h2v1h-2zM343 415h1v1h-1zM420 415h1v1h-1zM531 415h1v1h-1zM599 415h2v1h-2zM116 416h2v1h-2zM344 416h1v1h-1zM418 416h2v1h-2zM532 416h2v1h-2zM598 416h1v1h-1zM114 417h2v1h-2zM345 417h1v1h-1zM417 417h1v1h-1zM534 417h1v1h-1zM596 417h2v1h-2zM111 418h3v1h-3zM346 418h1v1h-1zM416 418h1v1h-1zM535 418h1v1h-1zM595 418h1v1h-1zM108 419h3v1h-3zM347 419h1v1h-1zM415 419h1v1h-1zM536 419h1v1h-1zM593 419h2v1h-2zM106 420h2v1h-2zM348 420h1v1h-1zM415 420h1v1h-1zM537 420h1v1h-1zM592 420h1v1h-1zM104 421h2v1h-2zM349 421h1v1h-1zM414 421h1v1h-1zM538 421h1v1h-1zM590 421h2v1h-2zM103 422h1v1h-1zM349 422h1v1h-1zM413 422h1v1h-1zM538 422h1v1h-1zM588 422h2v1h-2zM102 423h1v1h-1zM350 423h1v1h-1zM412 423h1v1h-1zM539 423h1v1h-1zM587 423h1v1h-1zM84 424h18v1h-18zM351 424h1v1h-1zM412 424h1v1h-1zM540 424h1v1h-1zM585 424h2v1h-2zM81 425h3v1h-3zM352 425h1v1h-1zM411 425h1v1h-1zM541 425h1v1h-1zM584 425h1v1h-1zM79 426h2v1h-2zM353 426h1v1h-1zM410 426h1v1h-1zM541 426h1v1h-1zM582 426h2v1h-2zM75 427h4v1h-4zM354 427h1v1h-1zM409 427h1v1h-1zM542 427h1v1h-1zM581 427h1v1h-1zM71 428h4v1h-4zM355 428h1v1h-1zM409 428h1v1h-1zM543 428h1v1h-1zM580 428h1v1h-1zM67 429h4v1h-4zM356 429h1v1h-1zM408 429h1v1h-1zM544 429h2v1h-2zM578 429h2v1h-2zM65 430h2v1h-2zM357 430h1v1h-1zM407 430h1v1h-1zM546 430h1v1h-1zM577 430h1v1h-1zM358 431h2v1h-2zM405 431h2v1h-2zM547 431h1v1h-1zM575 431h2v1h-2zM360 432h2v1h-2zM403 432h2v1h-2zM548 432h2v1h-2zM572 432h3v1h-3zM362 433h2v1h-2zM401 433h2v1h-2zM550 433h3v1h-3zM570 433h2v1h-2zM364 434h1v1h-1zM400 434h1v1h-1zM553 434h17v1h-17zM365 435h2v1h-2zM398 435h2v1h-2zM367 436h1v1h-1zM397 436h1v1h-1zM368 437h1v1h-1zM396 437h1v1h-1zM369 438h2v1h-2zM395 438h1v1h-1zM371 439h1v1h-1zM393 439h2v1h-2zM372 440h2v1h-2zM392 440h1v1h-1zM374 441h1v1h-1zM390 441h2v1h-2zM375 442h2v1h-2zM387 442h3v1h-3zM377 443h2v1h-2zM383 443h4v1h-4zM379 444h4v1h-4z" fill="#0a0a9c"/></g>
<text x="63" y="13" fill="#000" font-size="12" font-weight="500" font-family='"Liberation Sans", "Noto Sans CJK SC", "WenQuanYi Zen Hei", sans-serif' text-anchor="start" textLength="48" lengthAdjust="spacingAndGlyphs">现货黄金</text><text x="109" y="13" fill="#ff7f00" font-size="12" font-weight="normal" font-family='"Liberation Sans", "Noto Sans CJK SC", "WenQuanYi Zen Hei", sans-serif' text-anchor="start" stroke="#ff7f00" stroke-width="0.2">【</text><text x="121.7" y="13" fill="#ff7f00" font-size="12" font-weight="normal" font-family='"Liberation Sans", "Noto Sans CJK SC", "WenQuanYi Zen Hei", sans-serif' text-anchor="start" stroke="#ff7f00" stroke-width="0.2">日</text><text x="134.5" y="13" fill="#ff7f00" font-size="12" font-weight="normal" font-family='"Liberation Sans", "Noto Sans CJK SC", "WenQuanYi Zen Hei", sans-serif' text-anchor="start" stroke="#ff7f00" stroke-width="0.2">线</text><text x="148" y="13" fill="#ff7f00" font-size="12" font-weight="normal" font-family='"Liberation Sans", "Noto Sans CJK SC", "WenQuanYi Zen Hei", sans-serif' text-anchor="start" stroke="#ff7f00" stroke-width="0.2">】</text><g fill="#ff7f00" shape-rendering="crispEdges"><rect x="162" y="6" width="4" height="1"/><rect x="161" y="7" width="1" height="1"/><rect x="166" y="7" width="1" height="1"/><rect x="160" y="8" width="1" height="5"/><rect x="167" y="8" width="1" height="5"/><rect x="161" y="13" width="1" height="1"/><rect x="166" y="13" width="1" height="1"/><rect x="162" y="14" width="4" height="1"/><rect x="160" y="10" width="8" height="1"/><rect x="163" y="7" width="1" height="7" fill-opacity="0.55"/></g><g shape-rendering="crispEdges"><rect x="177" y="1" width="10" height="11" fill="#fff"/><rect x="177" y="0" width="10" height="1" fill="#00007a"/><rect x="176" y="1" width="1" height="11" fill="#00007a"/><rect x="187" y="1" width="1" height="11" fill="#00007a"/><rect x="177" y="12" width="10" height="1" fill="#00007a"/><rect x="188" y="2" width="1" height="12" fill="#a8a8a0"/><rect x="177" y="13" width="11" height="1" fill="#a8a8a0"/></g><polyline points="177.5,7.5 180.5,3.5 181.5,4.5 183.5,6.5 185.5,4.5 187,4.5" fill="none" stroke="#ff0000" stroke-width="1"/><polyline points="177.5,10.5 180.5,6.5 181.5,7.5 183.5,9.5 185.5,7.5 187,7.5" fill="none" stroke="#0000ff" stroke-width="1"/><text x="191.7" y="13" fill="#000" font-size="12" font-weight="normal" font-family='"Liberation Sans", Arial, sans-serif' text-anchor="start" textLength="132" lengthAdjust="spacingAndGlyphs" stroke="#000" stroke-width="0.2">MA(5,10,30,60,100,200)</text><text x="329.5" y="13" fill="#000" font-size="12" font-weight="normal" font-family='"Liberation Sans", Arial, sans-serif' text-anchor="start" textLength="74" lengthAdjust="spacingAndGlyphs" stroke="#000" stroke-width="0.2">MA5:2640.68</text><text x="412.4" y="13" fill="#1a1aa0" font-size="12" font-weight="normal" font-family='"Liberation Sans", Arial, sans-serif' text-anchor="start" textLength="82" lengthAdjust="spacingAndGlyphs" stroke="#1a1aa0" stroke-width="0.2">MA10:2649.58</text><text x="502.4" y="13" fill="#ff00ff" font-size="12" font-weight="normal" font-family='"Liberation Sans", Arial, sans-serif' text-anchor="start" textLength="18.5" lengthAdjust="spacingAndGlyphs" stroke="#ff00ff" stroke-width="0.2">MA</text><g shape-rendering="crispEdges"><rect x="595.5" y="0.5" width="13" height="13" fill="#fff" stroke="#1a72c9" stroke-width="1"/><line x1="595" y1="0.5" x2="609" y2="0.5" stroke="#1a72c9" stroke-width="1.6"/><rect x="611.5" y="0.5" width="13" height="13" fill="#fff" stroke="#1a72c9" stroke-width="1"/><line x1="611" y1="0.5" x2="625" y2="0.5" stroke="#1a72c9" stroke-width="1.6"/><rect x="627.5" y="0.5" width="13" height="13" fill="#fff" stroke="#1a72c9" stroke-width="1"/><line x1="627" y1="0.5" x2="641" y2="0.5" stroke="#1a72c9" stroke-width="1.6"/><rect x="643.5" y="0.5" width="13" height="13" fill="#fff" stroke="#1a72c9" stroke-width="1"/><line x1="643" y1="0.5" x2="657" y2="0.5" stroke="#1a72c9" stroke-width="1.6"/></g><g fill="#1a72c9"><rect x="601" y="2" width="2" height="3"/><rect x="601" y="6" width="2" height="2"/><rect x="601" y="9" width="2" height="3"/><rect x="597" y="6" width="3" height="2"/><rect x="604" y="6" width="3" height="2"/></g><g stroke="#1a72c9" fill="none" stroke-width="1.2"><line x1="614.3" y1="3" x2="614.3" y2="12"/><polyline points="612.8,4.5 614.3,2.6 615.8,4.5"/><line x1="613.5" y1="10.5" x2="622.5" y2="10.5"/><polyline points="621,9 622.8,10.5 621,12"/><line x1="617.5" y1="3.3" x2="617.5" y2="8.6"/></g><polygon points="621.2,3.5 621.2,8 618.4,5.8" fill="#1a72c9"/><g stroke="#1a72c9" fill="none" stroke-width="1.2"><line x1="630.4" y1="3" x2="630.4" y2="12"/><polyline points="628.9,4.5 630.4,2.6 631.9,4.5"/><line x1="629.5" y1="10.5" x2="638.5" y2="10.5"/><polyline points="637,9 638.8,10.5 637,12"/></g><polygon points="633.3,3.1 638,6.2 633.3,9.3" fill="#1a72c9"/><rect x="645.6" y="2.6" width="3.2" height="8.8" fill="none" stroke="#1a72c9" stroke-width="1.1"/><line x1="647.3" y1="6.9" x2="652" y2="6.9" stroke="#1a72c9" stroke-width="1.6"/><polygon points="651,4.2 654.6,6.9 651,9.6" fill="#1a72c9"/><text x="57.5" y="24" fill="#1c2b48" font-size="12" font-weight="normal" font-family='"Liberation Sans", Arial, sans-serif' text-anchor="end" textLength="44.3" lengthAdjust="spacingAndGlyphs" stroke="#1c2b48" stroke-width="0.2">2832.89</text><text x="57.5" y="86" fill="#1c2b48" font-size="12" font-weight="normal" font-family='"Liberation Sans", Arial, sans-serif' text-anchor="end" textLength="44.3" lengthAdjust="spacingAndGlyphs" stroke="#1c2b48" stroke-width="0.2">2674.41</text><text x="57.5" y="149" fill="#1c2b48" font-size="12" font-weight="normal" font-family='"Liberation Sans", Arial, sans-serif' text-anchor="end" textLength="44.3" lengthAdjust="spacingAndGlyphs" stroke="#1c2b48" stroke-width="0.2">2515.93</text><text x="57.5" y="212" fill="#1c2b48" font-size="12" font-weight="normal" font-family='"Liberation Sans", Arial, sans-serif' text-anchor="end" textLength="44.3" lengthAdjust="spacingAndGlyphs" stroke="#1c2b48" stroke-width="0.2">2357.46</text><text x="661.3" y="24" fill="#1c2b48" font-size="12" font-weight="normal" font-family='"Liberation Sans", Arial, sans-serif' text-anchor="start" textLength="43.8" lengthAdjust="spacingAndGlyphs" stroke="#1c2b48" stroke-width="0.2">2832.89</text><text x="661.3" y="86" fill="#1c2b48" font-size="12" font-weight="normal" font-family='"Liberation Sans", Arial, sans-serif' text-anchor="start" textLength="43.8" lengthAdjust="spacingAndGlyphs" stroke="#1c2b48" stroke-width="0.2">2674.41</text><text x="661.3" y="149" fill="#1c2b48" font-size="12" font-weight="normal" font-family='"Liberation Sans", Arial, sans-serif' text-anchor="start" textLength="43.8" lengthAdjust="spacingAndGlyphs" stroke="#1c2b48" stroke-width="0.2">2515.93</text><text x="661.3" y="212" fill="#1c2b48" font-size="12" font-weight="normal" font-family='"Liberation Sans", Arial, sans-serif' text-anchor="start" textLength="43.8" lengthAdjust="spacingAndGlyphs" stroke="#1c2b48" stroke-width="0.2">2357.46</text><g shape-rendering="crispEdges"><rect x="658.5" y="96.5" width="70" height="16.5" fill="#fff" stroke="#ff7f00"/></g><text x="661.3" y="108.8" fill="#ff7f00" font-size="12" font-weight="normal" font-family='"Liberation Sans", Arial, sans-serif' text-anchor="start" textLength="43.5" lengthAdjust="spacingAndGlyphs" stroke="#ff7f00" stroke-width="0.2">2641.10</text><text x="57.5" y="296" fill="#1c2b48" font-size="12" font-weight="normal" font-family='"Liberation Sans", Arial, sans-serif' text-anchor="end" textLength="28.5" lengthAdjust="spacingAndGlyphs" stroke="#1c2b48" stroke-width="0.2">47.21</text><text x="57.5" y="320" fill="#1c2b48" font-size="12" font-weight="normal" font-family='"Liberation Sans", Arial, sans-serif' text-anchor="end" textLength="27" lengthAdjust="spacingAndGlyphs" stroke="#1c2b48" stroke-width="0.2">-1.29</text><text x="660.8" y="296" fill="#1c2b48" font-size="12" font-weight="normal" font-family='"Liberation Sans", Arial, sans-serif' text-anchor="start" textLength="30.5" lengthAdjust="spacingAndGlyphs" stroke="#1c2b48" stroke-width="0.2">47.21</text><text x="661.3" y="320" fill="#1c2b48" font-size="12" font-weight="normal" font-family='"Liberation Sans", Arial, sans-serif' text-anchor="start" textLength="27" lengthAdjust="spacingAndGlyphs" stroke="#1c2b48" stroke-width="0.2">-1.29</text><text x="57.5" y="367" fill="#1c2b48" font-size="12" font-weight="normal" font-family='"Liberation Sans", Arial, sans-serif' text-anchor="end" textLength="29.5" lengthAdjust="spacingAndGlyphs" stroke="#1c2b48" stroke-width="0.2">83.33</text><text x="661" y="367" fill="#1c2b48" font-size="12" font-weight="normal" font-family='"Liberation Sans", Arial, sans-serif' text-anchor="start" textLength="30.8" lengthAdjust="spacingAndGlyphs" stroke="#1c2b48" stroke-width="0.2">83.33</text><text x="57.5" y="396" fill="#1c2b48" font-size="12" font-weight="normal" font-family='"Liberation Sans", Arial, sans-serif' text-anchor="end" textLength="29.5" lengthAdjust="spacingAndGlyphs" stroke="#1c2b48" stroke-width="0.2">63.89</text><text x="661" y="396" fill="#1c2b48" font-size="12" font-weight="normal" font-family='"Liberation Sans", Arial, sans-serif' text-anchor="start" textLength="30.8" lengthAdjust="spacingAndGlyphs" stroke="#1c2b48" stroke-width="0.2">63.89</text><text x="57.5" y="424.8" fill="#1c2b48" font-size="12" font-weight="normal" font-family='"Liberation Sans", Arial, sans-serif' text-anchor="end" textLength="29.5" lengthAdjust="spacingAndGlyphs" stroke="#1c2b48" stroke-width="0.2">44.44</text><text x="661" y="424.8" fill="#1c2b48" font-size="12" font-weight="normal" font-family='"Liberation Sans", Arial, sans-serif' text-anchor="start" textLength="30.8" lengthAdjust="spacingAndGlyphs" stroke="#1c2b48" stroke-width="0.2">44.44</text><text x="469.3" y="34.5" fill="#e03c3c" font-size="12" font-weight="bold" font-family='"Liberation Sans", Arial, sans-serif' text-anchor="start" textLength="44" lengthAdjust="spacingAndGlyphs">2789.95</text><text x="84.6" y="191.2" fill="#5fa35c" font-size="12" font-weight="bold" font-family='"Liberation Sans", Arial, sans-serif' text-anchor="start" textLength="44.2" lengthAdjust="spacingAndGlyphs">2432.15</text><text x="539.4" y="149.5" fill="#5fa35c" font-size="12" font-weight="bold" font-family='"Liberation Sans", Arial, sans-serif' text-anchor="start" textLength="43.6" lengthAdjust="spacingAndGlyphs">2536.68</text><text x="63.9" y="284.6" fill="#000" font-size="12" font-weight="normal" font-family='"Liberation Sans", Arial, sans-serif' text-anchor="start" textLength="84.1" lengthAdjust="spacingAndGlyphs" stroke="#000" stroke-width="0.2">MACD(26,12,9)</text><text x="154.4" y="284.6" fill="#000" font-size="12" font-weight="normal" font-family='"Liberation Sans", Arial, sans-serif' text-anchor="start" textLength="54.5" lengthAdjust="spacingAndGlyphs" stroke="#000" stroke-width="0.2">DIFF:-7.51</text><text x="218.3" y="284.6" fill="#1a1aa0" font-size="12" font-weight="normal" font-family='"Liberation Sans", Arial, sans-serif' text-anchor="start" textLength="55.1" lengthAdjust="spacingAndGlyphs" stroke="#1a1aa0" stroke-width="0.2">DEA:-8.50</text><text x="282.2" y="284.6" fill="#ff00ff" font-size="12" font-weight="normal" font-family='"Liberation Sans", Arial, sans-serif' text-anchor="start" textLength="63.7" lengthAdjust="spacingAndGlyphs" stroke="#ff00ff" stroke-width="0.2">MACD:1.96</text><text x="63.5" y="355.1" fill="#000" font-size="12" font-weight="normal" font-family='"Liberation Sans", Arial, sans-serif' text-anchor="start" textLength="51.6" lengthAdjust="spacingAndGlyphs" stroke="#000" stroke-width="0.2">PSY(12,6)</text><text x="120.1" y="355.1" fill="#000" font-size="12" font-weight="normal" font-family='"Liberation Sans", Arial, sans-serif' text-anchor="start" textLength="53.7" lengthAdjust="spacingAndGlyphs" stroke="#000" stroke-width="0.2">PSY:83.33</text><text x="183.8" y="355.1" fill="#1a1aa0" font-size="12" font-weight="normal" font-family='"Liberation Sans", Arial, sans-serif' text-anchor="start" textLength="73.3" lengthAdjust="spacingAndGlyphs" stroke="#1a1aa0" stroke-width="0.2">PSYMA:68.06</text><text x="165.1" y="463" fill="#1b2233" font-size="12" font-weight="bold" font-family='"Liberation Sans", Arial, sans-serif' text-anchor="start" textLength="44.4" lengthAdjust="spacingAndGlyphs">2024/09</text><text x="312.4" y="463" fill="#1b2233" font-size="12" font-weight="bold" font-family='"Liberation Sans", Arial, sans-serif' text-anchor="start" textLength="43.6" lengthAdjust="spacingAndGlyphs">2024/10</text><text x="473.4" y="463" fill="#1b2233" font-size="12" font-weight="bold" font-family='"Liberation Sans", Arial, sans-serif' text-anchor="start" textLength="42.6" lengthAdjust="spacingAndGlyphs">2024/11</text><text x="4" y="466" fill="#ff7f00" font-size="12" font-weight="bold" font-family='"Liberation Sans", "Noto Sans CJK SC", "WenQuanYi Zen Hei", sans-serif' text-anchor="start">日</text><text x="17.8" y="466" fill="#ff7f00" font-size="12" font-weight="bold" font-family='"Liberation Sans", "Noto Sans CJK SC", "WenQuanYi Zen Hei", sans-serif' text-anchor="start">线</text><polygon points="35.6,465.2 39.8,456.6 44,465.2" fill="#ff7f00"/><circle cx="0" cy="348.7" r="3.4" fill="#ff0a0a" stroke="#000" stroke-width="1.3"/><g stroke="#ff1010" stroke-width="1"><line x1="4.5" y1="344.8" x2="5.8" y2="343.5"/><line x1="5.2" y1="348.6" x2="7" y2="348.6"/><line x1="4.5" y1="352.4" x2="5.8" y2="353.7"/></g><text x="587.4 609.2 630.6 650.5 669.8" y="445.2" fill="#c9b8a6" font-size="30.5" font-family='"Liberation Sans", Arial, sans-serif'>FX678</text><text x="586.4 608.2 629.6 649.5 668.8" y="444.2" fill="#d8e5f4" font-size="30.5" font-family='"Liberation Sans", Arial, sans-serif'>FX678</text>
</svg>
</body></html>
